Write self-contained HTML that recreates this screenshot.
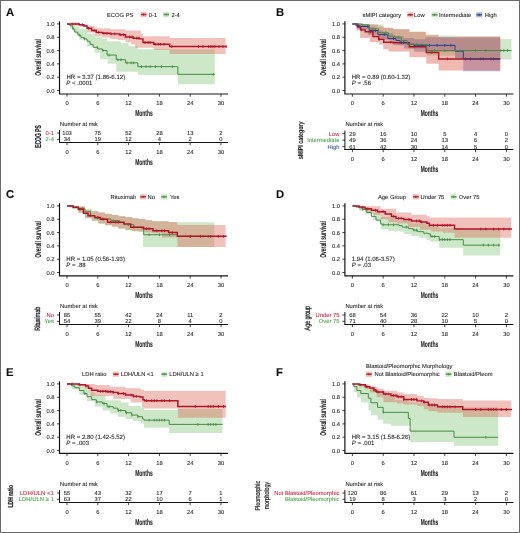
<!DOCTYPE html>
<html><head><meta charset="utf-8"><style>
html,body{margin:0;padding:0;background:#fff;}
#fig{position:relative;width:520px;height:533px;box-sizing:border-box;border:1px solid #6a6a6a;overflow:hidden;}
svg{position:absolute;left:-1px;top:-1px;will-change:transform;}
svg text{font-family:"Liberation Sans",sans-serif;text-rendering:geometricPrecision;}
</style></head><body><div id="fig">
<svg width="520" height="533" viewBox="0 0 520 533">
<text x="6" y="15.8" font-size="11.3" font-weight="bold" fill="#111" stroke="#111" stroke-width="0.1">A</text>
<text x="107" y="16.6" font-size="5.8" fill="#2a2a2a" stroke="#2a2a2a" stroke-width="0.1">ECOG PS</text>
<rect x="140.6" y="11.9" width="6" height="5.2" fill="rgba(220,100,85,0.40)"/>
<path d="M140.9 14.5H146.5" stroke="#b01428" stroke-width="1.5" stroke-opacity="0.85"/>
<path d="M143.6 13.3V15.7" stroke="#b01428" stroke-width="0.8"/>
<text x="148.8" y="16.6" font-size="5.8" fill="#2a2a2a" stroke="#2a2a2a" stroke-width="0.1">0-1</text>
<rect x="163.2" y="11.9" width="6" height="5.2" fill="rgba(130,198,118,0.40)"/>
<path d="M163.5 14.5H169.1" stroke="#468c46" stroke-width="1.5" stroke-opacity="0.85"/>
<path d="M166.2 13.3V15.7" stroke="#468c46" stroke-width="0.8"/>
<text x="171.4" y="16.6" font-size="5.8" fill="#2a2a2a" stroke="#2a2a2a" stroke-width="0.1">2-4</text>
<path d="M67 23.9 L70.08 23.9 L70.08 24.57 L74.7 24.57 L74.7 26.56 L79.32 26.56 L79.32 28.96 L87.02 28.96 L87.02 33.56 L94.72 33.56 L94.72 37.22 L102.42 37.22 L102.42 38.55 L107.04 38.55 L107.04 41.22 L120.9 41.22 L120.9 42.88 L128.6 42.88 L128.6 45.88 L137.84 45.88 L137.84 49.21 L169.66 49.21 L169.66 49.47 L214.83 49.47 L214.83 84.17 L177.87 84.17 L177.87 75.05 L137.84 75.05 L137.84 71.65 L116.28 71.65 L116.28 63.86 L107.55 63.86 L107.55 59.2 L99.85 59.2 L99.85 52.74 L94.72 52.74 L94.72 46.68 L87.02 46.68 L87.02 39.68 L79.32 39.68 L79.32 33.89 L74.7 33.89 L74.7 27.9 L70.08 27.9 L70.08 23.9 L67 23.9Z" fill="rgba(130,198,118,0.40)" stroke="none"/>
<path d="M67 23.9 L79.32 23.9 L79.32 23.9 L83.94 23.9 L83.94 24.9 L87.02 24.9 L87.02 25.9 L94.72 25.9 L94.72 28.23 L110.12 28.23 L110.12 29.29 L125.52 29.29 L125.52 30.49 L140.92 30.49 L140.92 33.89 L142.97 33.89 L142.97 36.22 L169.66 36.22 L169.66 37.95 L225.61 37.95 L225.61 54.07 L169.66 54.07 L169.66 49.94 L153.75 49.94 L153.75 47.68 L135.27 47.68 L135.27 44.55 L131.16 44.55 L131.16 42.22 L125.52 42.22 L125.52 39.88 L117.82 39.88 L117.82 38.89 L110.12 38.89 L110.12 37.55 L102.42 37.55 L102.42 36.55 L94.72 36.55 L94.72 32.56 L87.02 32.56 L87.02 26.7 L79.32 26.7 L79.32 25.23 L72.13 25.23 L72.13 23.9 L67 23.9Z" fill="rgba(220,100,85,0.40)" stroke="none"/>
<path d="M67 23.9H68.54V24.9H70.08V25.9H72.65V28.96H74.7V32.03H77.78V35.09H80.86V37.42H83.94V38.95H87.02V41.28H90.1V44.35H93.18V47.34H97.8V48.94H102.42V50.47H107.04V55.07H116.28V59.73H125.52V62.86H137.84V66.66H177.87V74.32H214.83" fill="none" stroke="#468c46" stroke-width="1.0"/>
<path d="M73.16 27.56V30.36" stroke="#468c46" stroke-width="0.9"/>
<path d="M79.32 33.69V36.49" stroke="#468c46" stroke-width="0.9"/>
<path d="M84.45 37.55V40.35" stroke="#468c46" stroke-width="0.9"/>
<path d="M97.28 45.94V48.74" stroke="#468c46" stroke-width="0.9"/>
<path d="M102.93 49.07V51.87" stroke="#468c46" stroke-width="0.9"/>
<path d="M109.09 53.67V56.47" stroke="#468c46" stroke-width="0.9"/>
<path d="M117.82 58.33V61.13" stroke="#468c46" stroke-width="0.9"/>
<path d="M120.9 58.33V61.13" stroke="#468c46" stroke-width="0.9"/>
<path d="M127.06 61.46V64.26" stroke="#468c46" stroke-width="0.9"/>
<path d="M131.16 61.46V64.26" stroke="#468c46" stroke-width="0.9"/>
<path d="M133.73 61.46V64.26" stroke="#468c46" stroke-width="0.9"/>
<path d="M141.43 65.26V68.06" stroke="#468c46" stroke-width="0.9"/>
<path d="M146.05 65.26V68.06" stroke="#468c46" stroke-width="0.9"/>
<path d="M150.15 65.26V68.06" stroke="#468c46" stroke-width="0.9"/>
<path d="M155.29 65.26V68.06" stroke="#468c46" stroke-width="0.9"/>
<path d="M161.45 65.26V68.06" stroke="#468c46" stroke-width="0.9"/>
<path d="M172.23 65.26V68.06" stroke="#468c46" stroke-width="0.9"/>
<path d="M213.29 72.92V75.72" stroke="#468c46" stroke-width="0.9"/>
<path d="M67 23.9H79.32V24.7H83.94V25.9H87.02V28.23H91.64V30.49H96.26V32.36H102.42V33.29H110.12V33.89H119.36V34.82H125.52V37.02H133.22V38.15H139.38V38.89H142.97V42.48H153.75V44.28H169.66V46.54H226.64" fill="none" stroke="#b01428" stroke-width="1.45"/>
<path d="M72.13 22.5V25.3" stroke="#b01428" stroke-width="0.9"/>
<path d="M75.21 22.5V25.3" stroke="#b01428" stroke-width="0.9"/>
<path d="M78.29 22.5V25.3" stroke="#b01428" stroke-width="0.9"/>
<path d="M82.4 23.3V26.1" stroke="#b01428" stroke-width="0.9"/>
<path d="M88.56 26.83V29.63" stroke="#b01428" stroke-width="0.9"/>
<path d="M94.2 29.09V31.89" stroke="#b01428" stroke-width="0.9"/>
<path d="M98.82 30.96V33.76" stroke="#b01428" stroke-width="0.9"/>
<path d="M103.96 31.89V34.69" stroke="#b01428" stroke-width="0.9"/>
<path d="M107.04 31.89V34.69" stroke="#b01428" stroke-width="0.9"/>
<path d="M111.14 32.49V35.29" stroke="#b01428" stroke-width="0.9"/>
<path d="M114.74 32.49V35.29" stroke="#b01428" stroke-width="0.9"/>
<path d="M120.38 33.42V36.22" stroke="#b01428" stroke-width="0.9"/>
<path d="M123.46 33.42V36.22" stroke="#b01428" stroke-width="0.9"/>
<path d="M129.62 35.62V38.42" stroke="#b01428" stroke-width="0.9"/>
<path d="M132.19 35.62V38.42" stroke="#b01428" stroke-width="0.9"/>
<path d="M136.81 36.75V39.55" stroke="#b01428" stroke-width="0.9"/>
<path d="M138.86 36.75V39.55" stroke="#b01428" stroke-width="0.9"/>
<path d="M145.02 41.08V43.88" stroke="#b01428" stroke-width="0.9"/>
<path d="M148.1 41.08V43.88" stroke="#b01428" stroke-width="0.9"/>
<path d="M150.15 41.08V43.88" stroke="#b01428" stroke-width="0.9"/>
<path d="M155.29 42.88V45.68" stroke="#b01428" stroke-width="0.9"/>
<path d="M158.37 42.88V45.68" stroke="#b01428" stroke-width="0.9"/>
<path d="M160.42 42.88V45.68" stroke="#b01428" stroke-width="0.9"/>
<path d="M164.01 42.88V45.68" stroke="#b01428" stroke-width="0.9"/>
<path d="M171.71 45.14V47.94" stroke="#b01428" stroke-width="0.9"/>
<path d="M198.4 45.14V47.94" stroke="#b01428" stroke-width="0.9"/>
<path d="M203.02 45.14V47.94" stroke="#b01428" stroke-width="0.9"/>
<path d="M208.67 45.14V47.94" stroke="#b01428" stroke-width="0.9"/>
<path d="M210.72 45.14V47.94" stroke="#b01428" stroke-width="0.9"/>
<path d="M212.78 45.14V47.94" stroke="#b01428" stroke-width="0.9"/>
<path d="M214.83 45.14V47.94" stroke="#b01428" stroke-width="0.9"/>
<path d="M218.94 45.14V47.94" stroke="#b01428" stroke-width="0.9"/>
<path d="M223.04 45.14V47.94" stroke="#b01428" stroke-width="0.9"/>
<path d="M226.12 45.14V47.94" stroke="#b01428" stroke-width="0.9"/>
<path d="M59.5 21.2V94.6M58.9 94H228" stroke="#141414" stroke-width="1.2" fill="none"/>
<path d="M57 90.5H59.5" stroke="#141414" stroke-width="0.8"/>
<text x="54.6" y="92.6" font-size="5.8" text-anchor="end" fill="#2a2a2a" stroke="#2a2a2a" stroke-width="0.1">0.0</text>
<path d="M57 77.18H59.5" stroke="#141414" stroke-width="0.8"/>
<text x="54.6" y="79.28" font-size="5.8" text-anchor="end" fill="#2a2a2a" stroke="#2a2a2a" stroke-width="0.1">0.2</text>
<path d="M57 63.86H59.5" stroke="#141414" stroke-width="0.8"/>
<text x="54.6" y="65.96" font-size="5.8" text-anchor="end" fill="#2a2a2a" stroke="#2a2a2a" stroke-width="0.1">0.4</text>
<path d="M57 50.54H59.5" stroke="#141414" stroke-width="0.8"/>
<text x="54.6" y="52.64" font-size="5.8" text-anchor="end" fill="#2a2a2a" stroke="#2a2a2a" stroke-width="0.1">0.6</text>
<path d="M57 37.22H59.5" stroke="#141414" stroke-width="0.8"/>
<text x="54.6" y="39.32" font-size="5.8" text-anchor="end" fill="#2a2a2a" stroke="#2a2a2a" stroke-width="0.1">0.8</text>
<path d="M57 23.9H59.5" stroke="#141414" stroke-width="0.8"/>
<text x="54.6" y="26" font-size="5.8" text-anchor="end" fill="#2a2a2a" stroke="#2a2a2a" stroke-width="0.1">1.0</text>
<path d="M67 94V96.7" stroke="#141414" stroke-width="0.8"/>
<text x="67" y="104.8" font-size="5.8" text-anchor="middle" fill="#2a2a2a" stroke="#2a2a2a" stroke-width="0.1">0</text>
<path d="M97.8 94V96.7" stroke="#141414" stroke-width="0.8"/>
<text x="97.8" y="104.8" font-size="5.8" text-anchor="middle" fill="#2a2a2a" stroke="#2a2a2a" stroke-width="0.1">6</text>
<path d="M128.6 94V96.7" stroke="#141414" stroke-width="0.8"/>
<text x="128.6" y="104.8" font-size="5.8" text-anchor="middle" fill="#2a2a2a" stroke="#2a2a2a" stroke-width="0.1">12</text>
<path d="M159.39 94V96.7" stroke="#141414" stroke-width="0.8"/>
<text x="159.39" y="104.8" font-size="5.8" text-anchor="middle" fill="#2a2a2a" stroke="#2a2a2a" stroke-width="0.1">18</text>
<path d="M190.19 94V96.7" stroke="#141414" stroke-width="0.8"/>
<text x="190.19" y="104.8" font-size="5.8" text-anchor="middle" fill="#2a2a2a" stroke="#2a2a2a" stroke-width="0.1">24</text>
<path d="M220.99 94V96.7" stroke="#141414" stroke-width="0.8"/>
<text x="220.99" y="104.8" font-size="5.8" text-anchor="middle" fill="#2a2a2a" stroke="#2a2a2a" stroke-width="0.1">30</text>
<text transform="translate(144,116) scale(0.58,1)" x="0" y="0" font-size="8.5" font-weight="bold" text-anchor="middle" fill="#1a1a1a" stroke="#1a1a1a" stroke-width="0.08">Months</text>
<text transform="translate(41,57.5) rotate(-90) scale(0.58,1)" x="0" y="0" font-size="8.5" font-weight="bold" text-anchor="middle" fill="#1a1a1a" stroke="#1a1a1a" stroke-width="0.08">Overall survival</text>
<text x="66.5" y="78.6" font-size="6.05" fill="#2a2a2a" stroke="#2a2a2a" stroke-width="0.1">HR = 3.37 (1.86-6.12)</text>
<text x="66.3" y="85.4" font-size="6.05" fill="#2a2a2a" stroke="#2a2a2a" stroke-width="0.1"><tspan font-style="italic">P</tspan> &lt; .0001</text>
<text x="60" y="126.1" font-size="5.8" fill="#2a2a2a" stroke="#2a2a2a" stroke-width="0.1">Number at risk</text>
<path d="M59.5 130V143M59 142.5H228" stroke="#141414" stroke-width="1" fill="none"/>
<path d="M57 133H59.5" stroke="#141414" stroke-width="0.8"/>
<text x="54" y="135.1" font-size="5.8" text-anchor="end" fill="#cc2a48" stroke="#cc2a48" stroke-width="0.1">0-1</text>
<text x="67" y="135.1" font-size="5.8" text-anchor="middle" fill="#2a2a2a" stroke="#2a2a2a" stroke-width="0.1">103</text>
<text x="97.8" y="135.1" font-size="5.8" text-anchor="middle" fill="#2a2a2a" stroke="#2a2a2a" stroke-width="0.1">75</text>
<text x="128.6" y="135.1" font-size="5.8" text-anchor="middle" fill="#2a2a2a" stroke="#2a2a2a" stroke-width="0.1">52</text>
<text x="159.39" y="135.1" font-size="5.8" text-anchor="middle" fill="#2a2a2a" stroke="#2a2a2a" stroke-width="0.1">28</text>
<text x="190.19" y="135.1" font-size="5.8" text-anchor="middle" fill="#2a2a2a" stroke="#2a2a2a" stroke-width="0.1">13</text>
<text x="220.99" y="135.1" font-size="5.8" text-anchor="middle" fill="#2a2a2a" stroke="#2a2a2a" stroke-width="0.1">2</text>
<path d="M57 139.3H59.5" stroke="#141414" stroke-width="0.8"/>
<text x="54" y="141.4" font-size="5.8" text-anchor="end" fill="#4aa84a" stroke="#4aa84a" stroke-width="0.1">2-4</text>
<text x="67" y="141.4" font-size="5.8" text-anchor="middle" fill="#2a2a2a" stroke="#2a2a2a" stroke-width="0.1">34</text>
<text x="97.8" y="141.4" font-size="5.8" text-anchor="middle" fill="#2a2a2a" stroke="#2a2a2a" stroke-width="0.1">19</text>
<text x="128.6" y="141.4" font-size="5.8" text-anchor="middle" fill="#2a2a2a" stroke="#2a2a2a" stroke-width="0.1">12</text>
<text x="159.39" y="141.4" font-size="5.8" text-anchor="middle" fill="#2a2a2a" stroke="#2a2a2a" stroke-width="0.1">4</text>
<text x="190.19" y="141.4" font-size="5.8" text-anchor="middle" fill="#2a2a2a" stroke="#2a2a2a" stroke-width="0.1">2</text>
<text x="220.99" y="141.4" font-size="5.8" text-anchor="middle" fill="#2a2a2a" stroke="#2a2a2a" stroke-width="0.1">0</text>
<path d="M67 142.5V145.2" stroke="#141414" stroke-width="0.8"/>
<text x="67" y="153.8" font-size="5.8" text-anchor="middle" fill="#2a2a2a" stroke="#2a2a2a" stroke-width="0.1">0</text>
<path d="M97.8 142.5V145.2" stroke="#141414" stroke-width="0.8"/>
<text x="97.8" y="153.8" font-size="5.8" text-anchor="middle" fill="#2a2a2a" stroke="#2a2a2a" stroke-width="0.1">6</text>
<path d="M128.6 142.5V145.2" stroke="#141414" stroke-width="0.8"/>
<text x="128.6" y="153.8" font-size="5.8" text-anchor="middle" fill="#2a2a2a" stroke="#2a2a2a" stroke-width="0.1">12</text>
<path d="M159.39 142.5V145.2" stroke="#141414" stroke-width="0.8"/>
<text x="159.39" y="153.8" font-size="5.8" text-anchor="middle" fill="#2a2a2a" stroke="#2a2a2a" stroke-width="0.1">18</text>
<path d="M190.19 142.5V145.2" stroke="#141414" stroke-width="0.8"/>
<text x="190.19" y="153.8" font-size="5.8" text-anchor="middle" fill="#2a2a2a" stroke="#2a2a2a" stroke-width="0.1">24</text>
<path d="M220.99 142.5V145.2" stroke="#141414" stroke-width="0.8"/>
<text x="220.99" y="153.8" font-size="5.8" text-anchor="middle" fill="#2a2a2a" stroke="#2a2a2a" stroke-width="0.1">30</text>
<text transform="translate(144,164.7) scale(0.58,1)" x="0" y="0" font-size="8.5" font-weight="bold" text-anchor="middle" fill="#1a1a1a" stroke="#1a1a1a" stroke-width="0.08">Months</text>
<text transform="translate(40.9,136.5) rotate(-90) scale(0.58,1)" x="0" y="0" font-size="8.6" font-weight="bold" text-anchor="middle" fill="#222" stroke="#222" stroke-width="0.25">ECOG PS</text>
<text x="276" y="15.8" font-size="11.3" font-weight="bold" fill="#111" stroke="#111" stroke-width="0.1">B</text>
<text x="362.5" y="16.9" font-size="5.8" fill="#2a2a2a" stroke="#2a2a2a" stroke-width="0.1">sMIPI category</text>
<rect x="407.2" y="12.2" width="6" height="5.2" fill="rgba(220,100,85,0.40)"/>
<path d="M407.5 14.8H413.1" stroke="#b01428" stroke-width="1.5" stroke-opacity="0.85"/>
<path d="M410.2 13.6V16" stroke="#b01428" stroke-width="0.8"/>
<text x="414" y="16.9" font-size="5.8" fill="#2a2a2a" stroke="#2a2a2a" stroke-width="0.1">Low</text>
<rect x="431.6" y="12.2" width="6" height="5.2" fill="rgba(130,198,118,0.40)"/>
<path d="M431.9 14.8H437.5" stroke="#468c46" stroke-width="1.5" stroke-opacity="0.85"/>
<path d="M434.6 13.6V16" stroke="#468c46" stroke-width="0.8"/>
<text x="439" y="16.9" font-size="5.8" fill="#2a2a2a" stroke="#2a2a2a" stroke-width="0.1">Intermediate</text>
<rect x="476.2" y="12.2" width="6" height="5.2" fill="rgba(90,100,170,0.45)"/>
<path d="M476.5 14.8H482.1" stroke="#2a3f88" stroke-width="1.5" stroke-opacity="0.85"/>
<path d="M479.2 13.6V16" stroke="#2a3f88" stroke-width="0.8"/>
<text x="484.8" y="16.9" font-size="5.8" fill="#2a2a2a" stroke="#2a2a2a" stroke-width="0.1">High</text>
<path d="M352.4 23.9 L373.96 23.9 L373.96 24.57 L383.71 24.57 L383.71 27.43 L392.95 27.43 L392.95 28.9 L409.38 28.9 L409.38 31.56 L425.29 31.56 L425.29 34.49 L438.63 34.49 L438.63 35.56 L455.06 35.56 L455.06 36.55 L500.23 36.55 L500.23 38.95 L511.52 38.95 L511.52 59.4 L455.06 59.4 L455.06 55.87 L426.83 55.87 L426.83 49.21 L407.32 49.21 L407.32 45.21 L398.08 45.21 L398.08 42.55 L388.33 42.55 L388.33 38.55 L378.58 38.55 L378.58 33.89 L369.34 33.89 L369.34 30.56 L362.67 30.56 L362.67 26.56 L357.53 26.56 L357.53 23.9 L352.4 23.9Z" fill="rgba(130,198,118,0.40)" stroke="none"/>
<path d="M352.4 23.9 L360.1 23.9 L360.1 24.57 L367.8 24.57 L367.8 27.23 L375.5 27.23 L375.5 30.56 L383.2 30.56 L383.2 33.22 L393.46 33.22 L393.46 35.89 L403.73 35.89 L403.73 37.89 L414 37.89 L414 39.22 L425.29 39.22 L425.29 37.22 L455.06 37.22 L455.06 37.55 L500.23 37.55 L500.23 71.19 L463.27 71.19 L463.27 58.53 L455.06 58.53 L455.06 51.87 L414 51.87 L414 48.54 L403.73 48.54 L403.73 45.21 L393.46 45.21 L393.46 39.88 L378.06 39.88 L378.06 35.22 L367.8 35.22 L367.8 29.23 L357.53 29.23 L357.53 23.9 L352.4 23.9Z" fill="rgba(90,100,170,0.45)" stroke="none"/>
<path d="M352.4 23.9 L362.67 23.9 L362.67 23.9 L369.34 23.9 L369.34 24.57 L378.06 24.57 L378.06 26.56 L383.71 26.56 L383.71 27.9 L393.46 27.9 L393.46 29.23 L409.38 29.23 L409.38 31.89 L426.32 31.89 L426.32 35.22 L438.63 35.22 L438.63 37.22 L455.06 37.22 L455.06 36.55 L500.23 36.55 L500.23 70.52 L438.63 70.52 L438.63 63.86 L426.32 63.86 L426.32 57.2 L409.38 57.2 L409.38 51.54 L388.33 51.54 L388.33 49.21 L383.2 49.21 L383.2 44.55 L379.09 44.55 L379.09 41.88 L369.85 41.88 L369.85 37.89 L360.1 37.89 L360.1 30.56 L356.51 30.56 L356.51 23.9 L352.4 23.9Z" fill="rgba(220,100,85,0.45)" stroke="none"/>
<path d="M352.4 23.9H357.53V26.9H360.61V29.89H365.23V31.69H372.93V36.49H378.58V39.35H383.71V42.28H392.95V42.68H409.38V46.74H426.32V52.54H438.63V58.93H500.23" fill="none" stroke="#b01428" stroke-width="1.45"/>
<path d="M361.64 28.49V31.29" stroke="#b01428" stroke-width="0.9"/>
<path d="M370.37 30.29V33.09" stroke="#b01428" stroke-width="0.9"/>
<path d="M379.09 37.95V40.75" stroke="#b01428" stroke-width="0.9"/>
<path d="M390.9 40.88V43.68" stroke="#b01428" stroke-width="0.9"/>
<path d="M401.16 41.28V44.08" stroke="#b01428" stroke-width="0.9"/>
<path d="M414 45.34V48.14" stroke="#b01428" stroke-width="0.9"/>
<path d="M431.96 51.14V53.94" stroke="#b01428" stroke-width="0.9"/>
<path d="M447.36 57.53V60.33" stroke="#b01428" stroke-width="0.9"/>
<path d="M465.33 57.53V60.33" stroke="#b01428" stroke-width="0.9"/>
<path d="M480.72 57.53V60.33" stroke="#b01428" stroke-width="0.9"/>
<path d="M490.99 57.53V60.33" stroke="#b01428" stroke-width="0.9"/>
<path d="M352.4 23.9H355.99V25.9H360.61V26.56H369.34V30.56H378.06V34.56H387.82V38.55H396.03V40.55H400.14V42.41H407.32V44.15H414V45.35H455.06V51.21H463.27V58.93H500.23" fill="none" stroke="#2a3f88" stroke-width="1.0"/>
<path d="M358.56 24.5V27.3" stroke="#2a3f88" stroke-width="0.9"/>
<path d="M367.8 25.16V27.96" stroke="#2a3f88" stroke-width="0.9"/>
<path d="M375.5 29.16V31.96" stroke="#2a3f88" stroke-width="0.9"/>
<path d="M384.22 33.16V35.96" stroke="#2a3f88" stroke-width="0.9"/>
<path d="M393.46 37.15V39.95" stroke="#2a3f88" stroke-width="0.9"/>
<path d="M403.73 41.01V43.81" stroke="#2a3f88" stroke-width="0.9"/>
<path d="M415.02 43.95V46.75" stroke="#2a3f88" stroke-width="0.9"/>
<path d="M421.7 43.95V46.75" stroke="#2a3f88" stroke-width="0.9"/>
<path d="M429.39 43.95V46.75" stroke="#2a3f88" stroke-width="0.9"/>
<path d="M437.09 43.95V46.75" stroke="#2a3f88" stroke-width="0.9"/>
<path d="M444.79 43.95V46.75" stroke="#2a3f88" stroke-width="0.9"/>
<path d="M450.95 43.95V46.75" stroke="#2a3f88" stroke-width="0.9"/>
<path d="M470.46 57.53V60.33" stroke="#2a3f88" stroke-width="0.9"/>
<path d="M483.29 57.53V60.33" stroke="#2a3f88" stroke-width="0.9"/>
<path d="M493.56 57.53V60.33" stroke="#2a3f88" stroke-width="0.9"/>
<path d="M352.4 23.9H361.64V24.97H369.34V28.9H378.58V32.69H388.33V36.09H395V37.22H401.16V40.55H407.32V44.35H426.83V50.54H511.52" fill="none" stroke="#468c46" stroke-width="1.0"/>
<path d="M362.67 23.57V26.37" stroke="#468c46" stroke-width="0.9"/>
<path d="M372.93 27.5V30.3" stroke="#468c46" stroke-width="0.9"/>
<path d="M385.76 31.29V34.09" stroke="#468c46" stroke-width="0.9"/>
<path d="M398.6 35.82V38.62" stroke="#468c46" stroke-width="0.9"/>
<path d="M416.56 42.95V45.75" stroke="#468c46" stroke-width="0.9"/>
<path d="M434.53 49.14V51.94" stroke="#468c46" stroke-width="0.9"/>
<path d="M444.79 49.14V51.94" stroke="#468c46" stroke-width="0.9"/>
<path d="M460.19 49.14V51.94" stroke="#468c46" stroke-width="0.9"/>
<path d="M475.59 49.14V51.94" stroke="#468c46" stroke-width="0.9"/>
<path d="M485.86 49.14V51.94" stroke="#468c46" stroke-width="0.9"/>
<path d="M500.74 49.14V51.94" stroke="#468c46" stroke-width="0.9"/>
<path d="M503.82 49.14V51.94" stroke="#468c46" stroke-width="0.9"/>
<path d="M507.42 49.14V51.94" stroke="#468c46" stroke-width="0.9"/>
<path d="M344.9 21.2V94.6M344.3 94H513.4" stroke="#141414" stroke-width="1.2" fill="none"/>
<path d="M342.4 90.5H344.9" stroke="#141414" stroke-width="0.8"/>
<text x="340" y="92.6" font-size="5.8" text-anchor="end" fill="#2a2a2a" stroke="#2a2a2a" stroke-width="0.1">0.0</text>
<path d="M342.4 77.18H344.9" stroke="#141414" stroke-width="0.8"/>
<text x="340" y="79.28" font-size="5.8" text-anchor="end" fill="#2a2a2a" stroke="#2a2a2a" stroke-width="0.1">0.2</text>
<path d="M342.4 63.86H344.9" stroke="#141414" stroke-width="0.8"/>
<text x="340" y="65.96" font-size="5.8" text-anchor="end" fill="#2a2a2a" stroke="#2a2a2a" stroke-width="0.1">0.4</text>
<path d="M342.4 50.54H344.9" stroke="#141414" stroke-width="0.8"/>
<text x="340" y="52.64" font-size="5.8" text-anchor="end" fill="#2a2a2a" stroke="#2a2a2a" stroke-width="0.1">0.6</text>
<path d="M342.4 37.22H344.9" stroke="#141414" stroke-width="0.8"/>
<text x="340" y="39.32" font-size="5.8" text-anchor="end" fill="#2a2a2a" stroke="#2a2a2a" stroke-width="0.1">0.8</text>
<path d="M342.4 23.9H344.9" stroke="#141414" stroke-width="0.8"/>
<text x="340" y="26" font-size="5.8" text-anchor="end" fill="#2a2a2a" stroke="#2a2a2a" stroke-width="0.1">1.0</text>
<path d="M352.4 94V96.7" stroke="#141414" stroke-width="0.8"/>
<text x="352.4" y="104.8" font-size="5.8" text-anchor="middle" fill="#2a2a2a" stroke="#2a2a2a" stroke-width="0.1">0</text>
<path d="M383.2 94V96.7" stroke="#141414" stroke-width="0.8"/>
<text x="383.2" y="104.8" font-size="5.8" text-anchor="middle" fill="#2a2a2a" stroke="#2a2a2a" stroke-width="0.1">6</text>
<path d="M414 94V96.7" stroke="#141414" stroke-width="0.8"/>
<text x="414" y="104.8" font-size="5.8" text-anchor="middle" fill="#2a2a2a" stroke="#2a2a2a" stroke-width="0.1">12</text>
<path d="M444.79 94V96.7" stroke="#141414" stroke-width="0.8"/>
<text x="444.79" y="104.8" font-size="5.8" text-anchor="middle" fill="#2a2a2a" stroke="#2a2a2a" stroke-width="0.1">18</text>
<path d="M475.59 94V96.7" stroke="#141414" stroke-width="0.8"/>
<text x="475.59" y="104.8" font-size="5.8" text-anchor="middle" fill="#2a2a2a" stroke="#2a2a2a" stroke-width="0.1">24</text>
<path d="M506.39 94V96.7" stroke="#141414" stroke-width="0.8"/>
<text x="506.39" y="104.8" font-size="5.8" text-anchor="middle" fill="#2a2a2a" stroke="#2a2a2a" stroke-width="0.1">30</text>
<text transform="translate(429.4,116) scale(0.58,1)" x="0" y="0" font-size="8.5" font-weight="bold" text-anchor="middle" fill="#1a1a1a" stroke="#1a1a1a" stroke-width="0.08">Months</text>
<text transform="translate(326.4,57.5) rotate(-90) scale(0.58,1)" x="0" y="0" font-size="8.5" font-weight="bold" text-anchor="middle" fill="#1a1a1a" stroke="#1a1a1a" stroke-width="0.08">Overall survival</text>
<text x="351.7" y="78.6" font-size="6.05" fill="#2a2a2a" stroke="#2a2a2a" stroke-width="0.1">HR = 0.89 (0.60-1.32)</text>
<text x="351.7" y="85.4" font-size="6.05" fill="#2a2a2a" stroke="#2a2a2a" stroke-width="0.1"><tspan font-style="italic">P</tspan> = .56</text>
<text x="345.4" y="126.1" font-size="5.8" fill="#2a2a2a" stroke="#2a2a2a" stroke-width="0.1">Number at risk</text>
<path d="M344.9 130.6V150M344.4 149.5H513.4" stroke="#141414" stroke-width="1" fill="none"/>
<path d="M342.4 133.6H344.9" stroke="#141414" stroke-width="0.8"/>
<text x="339.4" y="135.7" font-size="5.8" text-anchor="end" fill="#cc2a48" stroke="#cc2a48" stroke-width="0.1">Low</text>
<text x="352.4" y="135.7" font-size="5.8" text-anchor="middle" fill="#2a2a2a" stroke="#2a2a2a" stroke-width="0.1">29</text>
<text x="383.2" y="135.7" font-size="5.8" text-anchor="middle" fill="#2a2a2a" stroke="#2a2a2a" stroke-width="0.1">16</text>
<text x="414" y="135.7" font-size="5.8" text-anchor="middle" fill="#2a2a2a" stroke="#2a2a2a" stroke-width="0.1">10</text>
<text x="444.79" y="135.7" font-size="5.8" text-anchor="middle" fill="#2a2a2a" stroke="#2a2a2a" stroke-width="0.1">5</text>
<text x="475.59" y="135.7" font-size="5.8" text-anchor="middle" fill="#2a2a2a" stroke="#2a2a2a" stroke-width="0.1">4</text>
<text x="506.39" y="135.7" font-size="5.8" text-anchor="middle" fill="#2a2a2a" stroke="#2a2a2a" stroke-width="0.1">0</text>
<path d="M342.4 140.15H344.9" stroke="#141414" stroke-width="0.8"/>
<text x="339.4" y="142.25" font-size="5.8" text-anchor="end" fill="#4aa84a" stroke="#4aa84a" stroke-width="0.1">Intermediate</text>
<text x="352.4" y="142.25" font-size="5.8" text-anchor="middle" fill="#2a2a2a" stroke="#2a2a2a" stroke-width="0.1">49</text>
<text x="383.2" y="142.25" font-size="5.8" text-anchor="middle" fill="#2a2a2a" stroke="#2a2a2a" stroke-width="0.1">36</text>
<text x="414" y="142.25" font-size="5.8" text-anchor="middle" fill="#2a2a2a" stroke="#2a2a2a" stroke-width="0.1">24</text>
<text x="444.79" y="142.25" font-size="5.8" text-anchor="middle" fill="#2a2a2a" stroke="#2a2a2a" stroke-width="0.1">13</text>
<text x="475.59" y="142.25" font-size="5.8" text-anchor="middle" fill="#2a2a2a" stroke="#2a2a2a" stroke-width="0.1">6</text>
<text x="506.39" y="142.25" font-size="5.8" text-anchor="middle" fill="#2a2a2a" stroke="#2a2a2a" stroke-width="0.1">2</text>
<path d="M342.4 146.7H344.9" stroke="#141414" stroke-width="0.8"/>
<text x="339.4" y="148.8" font-size="5.8" text-anchor="end" fill="#3a5aa8" stroke="#3a5aa8" stroke-width="0.1">High</text>
<text x="352.4" y="148.8" font-size="5.8" text-anchor="middle" fill="#2a2a2a" stroke="#2a2a2a" stroke-width="0.1">61</text>
<text x="383.2" y="148.8" font-size="5.8" text-anchor="middle" fill="#2a2a2a" stroke="#2a2a2a" stroke-width="0.1">42</text>
<text x="414" y="148.8" font-size="5.8" text-anchor="middle" fill="#2a2a2a" stroke="#2a2a2a" stroke-width="0.1">30</text>
<text x="444.79" y="148.8" font-size="5.8" text-anchor="middle" fill="#2a2a2a" stroke="#2a2a2a" stroke-width="0.1">14</text>
<text x="475.59" y="148.8" font-size="5.8" text-anchor="middle" fill="#2a2a2a" stroke="#2a2a2a" stroke-width="0.1">5</text>
<text x="506.39" y="148.8" font-size="5.8" text-anchor="middle" fill="#2a2a2a" stroke="#2a2a2a" stroke-width="0.1">0</text>
<path d="M352.4 149.5V152.2" stroke="#141414" stroke-width="0.8"/>
<text x="352.4" y="160.8" font-size="5.8" text-anchor="middle" fill="#2a2a2a" stroke="#2a2a2a" stroke-width="0.1">0</text>
<path d="M383.2 149.5V152.2" stroke="#141414" stroke-width="0.8"/>
<text x="383.2" y="160.8" font-size="5.8" text-anchor="middle" fill="#2a2a2a" stroke="#2a2a2a" stroke-width="0.1">6</text>
<path d="M414 149.5V152.2" stroke="#141414" stroke-width="0.8"/>
<text x="414" y="160.8" font-size="5.8" text-anchor="middle" fill="#2a2a2a" stroke="#2a2a2a" stroke-width="0.1">12</text>
<path d="M444.79 149.5V152.2" stroke="#141414" stroke-width="0.8"/>
<text x="444.79" y="160.8" font-size="5.8" text-anchor="middle" fill="#2a2a2a" stroke="#2a2a2a" stroke-width="0.1">18</text>
<path d="M475.59 149.5V152.2" stroke="#141414" stroke-width="0.8"/>
<text x="475.59" y="160.8" font-size="5.8" text-anchor="middle" fill="#2a2a2a" stroke="#2a2a2a" stroke-width="0.1">24</text>
<path d="M506.39 149.5V152.2" stroke="#141414" stroke-width="0.8"/>
<text x="506.39" y="160.8" font-size="5.8" text-anchor="middle" fill="#2a2a2a" stroke="#2a2a2a" stroke-width="0.1">30</text>
<text transform="translate(429.4,171.7) scale(0.58,1)" x="0" y="0" font-size="8.5" font-weight="bold" text-anchor="middle" fill="#1a1a1a" stroke="#1a1a1a" stroke-width="0.08">Months</text>
<text transform="translate(303.4,140.35) rotate(-90) scale(0.74,1)" x="0" y="0" font-size="7.2" font-weight="bold" text-anchor="middle" fill="#222" stroke="#222" stroke-width="0.12">sMIPI category</text>
<text x="6" y="197.8" font-size="11.3" font-weight="bold" fill="#111" stroke="#111" stroke-width="0.1">C</text>
<text x="110.5" y="198.9" font-size="5.8" fill="#2a2a2a" stroke="#2a2a2a" stroke-width="0.1">Rituximab</text>
<rect x="140" y="194.2" width="6" height="5.2" fill="rgba(220,100,85,0.40)"/>
<path d="M140.3 196.8H145.9" stroke="#b01428" stroke-width="1.5" stroke-opacity="0.85"/>
<path d="M143 195.6V198" stroke="#b01428" stroke-width="0.8"/>
<text x="147.5" y="198.9" font-size="5.8" fill="#2a2a2a" stroke="#2a2a2a" stroke-width="0.1">No</text>
<rect x="161" y="194.2" width="6" height="5.2" fill="rgba(130,198,118,0.40)"/>
<path d="M161.3 196.8H166.9" stroke="#468c46" stroke-width="1.5" stroke-opacity="0.85"/>
<path d="M164 195.6V198" stroke="#468c46" stroke-width="0.8"/>
<text x="170" y="198.9" font-size="5.8" fill="#2a2a2a" stroke="#2a2a2a" stroke-width="0.1">Yes</text>
<path d="M67 205.9 L72.13 205.9 L72.13 205.9 L78.29 205.9 L78.29 206.57 L84.97 206.57 L84.97 209.23 L91.64 209.23 L91.64 210.9 L98.31 210.9 L98.31 212.23 L104.98 212.23 L104.98 213.56 L111.91 213.56 L111.91 214.89 L118.33 214.89 L118.33 215.89 L125.52 215.89 L125.52 216.89 L132.19 216.89 L132.19 217.89 L138.86 217.89 L138.86 218.89 L145.53 218.89 L145.53 219.89 L152.21 219.89 L152.21 220.88 L168.63 220.88 L168.63 222.35 L214.32 222.35 L214.32 247.06 L142.97 247.06 L142.97 231.54 L132.19 231.54 L132.19 230.54 L125.52 230.54 L125.52 228.88 L118.33 228.88 L118.33 227.21 L111.91 227.21 L111.91 225.55 L104.98 225.55 L104.98 223.88 L98.31 223.88 L98.31 221.22 L91.64 221.22 L91.64 218.55 L84.97 218.55 L84.97 213.23 L78.29 213.23 L78.29 209.23 L72.13 209.23 L72.13 205.9 L67 205.9Z" fill="rgba(130,198,118,0.40)" stroke="none"/>
<path d="M67 205.9 L72.13 205.9 L72.13 206.23 L78.29 206.23 L78.29 206.77 L84.97 206.77 L84.97 209.7 L91.64 209.7 L91.64 211.23 L98.31 211.23 L98.31 212.43 L104.98 212.43 L104.98 213.89 L111.91 213.89 L111.91 215.09 L118.33 215.09 L118.33 216.22 L125.52 216.22 L125.52 217.09 L132.19 217.09 L132.19 218.22 L138.86 218.22 L138.86 219.09 L145.53 219.09 L145.53 220.22 L152.21 220.22 L152.21 221.22 L168.63 221.22 L168.63 221.88 L177.36 221.88 L177.36 224.88 L225.61 224.88 L225.61 247.06 L177.36 247.06 L177.36 237.47 L161.96 237.47 L161.96 233.27 L152.21 233.27 L152.21 232.54 L145.53 232.54 L145.53 231.87 L138.86 231.87 L138.86 230.88 L132.19 230.88 L132.19 229.88 L125.52 229.88 L125.52 228.21 L118.33 228.21 L118.33 226.55 L111.91 226.55 L111.91 224.88 L104.98 224.88 L104.98 223.22 L98.31 223.22 L98.31 220.55 L91.64 220.55 L91.64 217.82 L84.97 217.82 L84.97 212.43 L78.29 212.43 L78.29 208.56 L72.13 208.56 L72.13 205.9 L67 205.9Z" fill="rgba(220,100,85,0.40)" stroke="none"/>
<path d="M67 205.9H73.16V206.9H78.29V208.36H84.91V211.63H90.61V215.69H94.67V218.15H102.88V219.02H110.99V220.62H119.87V222.55H124.13V224.68H133.88V227.15H141.94V228.74H143.74V234.74H177.36V236.34H214.32" fill="none" stroke="#468c46" stroke-width="1.0"/>
<path d="M82.4 206.96V209.76" stroke="#468c46" stroke-width="0.9"/>
<path d="M97.8 216.75V219.55" stroke="#468c46" stroke-width="0.9"/>
<path d="M113.2 219.22V222.02" stroke="#468c46" stroke-width="0.9"/>
<path d="M128.6 223.28V226.08" stroke="#468c46" stroke-width="0.9"/>
<path d="M149.13 233.34V236.14" stroke="#468c46" stroke-width="0.9"/>
<path d="M159.39 233.34V236.14" stroke="#468c46" stroke-width="0.9"/>
<path d="M169.66 233.34V236.14" stroke="#468c46" stroke-width="0.9"/>
<path d="M190.19 234.94V237.74" stroke="#468c46" stroke-width="0.9"/>
<path d="M203.02 234.94V237.74" stroke="#468c46" stroke-width="0.9"/>
<path d="M208.16 234.94V237.74" stroke="#468c46" stroke-width="0.9"/>
<path d="M67 205.9H73.16V207.23H78.29V209.16H83.43V213.29H88.05V215.69H94.72V217.36H100.36V219.22H107.55V222.22H123.98V223.88H130.65V227.15H143.74V228.74H152.98V230.74H168.63V232.54H177.36V236.34H226.64" fill="none" stroke="#b01428" stroke-width="1.45"/>
<path d="M79.83 207.76V210.56" stroke="#b01428" stroke-width="0.9"/>
<path d="M90.1 214.29V217.09" stroke="#b01428" stroke-width="0.9"/>
<path d="M97.8 215.96V218.76" stroke="#b01428" stroke-width="0.9"/>
<path d="M102.93 217.82V220.62" stroke="#b01428" stroke-width="0.9"/>
<path d="M110.63 220.82V223.62" stroke="#b01428" stroke-width="0.9"/>
<path d="M115.76 220.82V223.62" stroke="#b01428" stroke-width="0.9"/>
<path d="M118.33 220.82V223.62" stroke="#b01428" stroke-width="0.9"/>
<path d="M133.73 225.75V228.55" stroke="#b01428" stroke-width="0.9"/>
<path d="M146.56 227.34V230.14" stroke="#b01428" stroke-width="0.9"/>
<path d="M149.13 227.34V230.14" stroke="#b01428" stroke-width="0.9"/>
<path d="M156.83 229.34V232.14" stroke="#b01428" stroke-width="0.9"/>
<path d="M161.96 229.34V232.14" stroke="#b01428" stroke-width="0.9"/>
<path d="M164.53 229.34V232.14" stroke="#b01428" stroke-width="0.9"/>
<path d="M172.23 231.14V233.94" stroke="#b01428" stroke-width="0.9"/>
<path d="M190.19 234.94V237.74" stroke="#b01428" stroke-width="0.9"/>
<path d="M200.46 234.94V237.74" stroke="#b01428" stroke-width="0.9"/>
<path d="M210.72 234.94V237.74" stroke="#b01428" stroke-width="0.9"/>
<path d="M218.42 234.94V237.74" stroke="#b01428" stroke-width="0.9"/>
<path d="M223.56 234.94V237.74" stroke="#b01428" stroke-width="0.9"/>
<path d="M59.5 203.2V276.4M58.9 275.8H228" stroke="#141414" stroke-width="1.2" fill="none"/>
<path d="M57 272.5H59.5" stroke="#141414" stroke-width="0.8"/>
<text x="54.6" y="274.6" font-size="5.8" text-anchor="end" fill="#2a2a2a" stroke="#2a2a2a" stroke-width="0.1">0.0</text>
<path d="M57 259.18H59.5" stroke="#141414" stroke-width="0.8"/>
<text x="54.6" y="261.28" font-size="5.8" text-anchor="end" fill="#2a2a2a" stroke="#2a2a2a" stroke-width="0.1">0.2</text>
<path d="M57 245.86H59.5" stroke="#141414" stroke-width="0.8"/>
<text x="54.6" y="247.96" font-size="5.8" text-anchor="end" fill="#2a2a2a" stroke="#2a2a2a" stroke-width="0.1">0.4</text>
<path d="M57 232.54H59.5" stroke="#141414" stroke-width="0.8"/>
<text x="54.6" y="234.64" font-size="5.8" text-anchor="end" fill="#2a2a2a" stroke="#2a2a2a" stroke-width="0.1">0.6</text>
<path d="M57 219.22H59.5" stroke="#141414" stroke-width="0.8"/>
<text x="54.6" y="221.32" font-size="5.8" text-anchor="end" fill="#2a2a2a" stroke="#2a2a2a" stroke-width="0.1">0.8</text>
<path d="M57 205.9H59.5" stroke="#141414" stroke-width="0.8"/>
<text x="54.6" y="208" font-size="5.8" text-anchor="end" fill="#2a2a2a" stroke="#2a2a2a" stroke-width="0.1">1.0</text>
<path d="M67 275.8V278.5" stroke="#141414" stroke-width="0.8"/>
<text x="67" y="286.8" font-size="5.8" text-anchor="middle" fill="#2a2a2a" stroke="#2a2a2a" stroke-width="0.1">0</text>
<path d="M97.8 275.8V278.5" stroke="#141414" stroke-width="0.8"/>
<text x="97.8" y="286.8" font-size="5.8" text-anchor="middle" fill="#2a2a2a" stroke="#2a2a2a" stroke-width="0.1">6</text>
<path d="M128.6 275.8V278.5" stroke="#141414" stroke-width="0.8"/>
<text x="128.6" y="286.8" font-size="5.8" text-anchor="middle" fill="#2a2a2a" stroke="#2a2a2a" stroke-width="0.1">12</text>
<path d="M159.39 275.8V278.5" stroke="#141414" stroke-width="0.8"/>
<text x="159.39" y="286.8" font-size="5.8" text-anchor="middle" fill="#2a2a2a" stroke="#2a2a2a" stroke-width="0.1">18</text>
<path d="M190.19 275.8V278.5" stroke="#141414" stroke-width="0.8"/>
<text x="190.19" y="286.8" font-size="5.8" text-anchor="middle" fill="#2a2a2a" stroke="#2a2a2a" stroke-width="0.1">24</text>
<path d="M220.99 275.8V278.5" stroke="#141414" stroke-width="0.8"/>
<text x="220.99" y="286.8" font-size="5.8" text-anchor="middle" fill="#2a2a2a" stroke="#2a2a2a" stroke-width="0.1">30</text>
<text transform="translate(144,298) scale(0.58,1)" x="0" y="0" font-size="8.5" font-weight="bold" text-anchor="middle" fill="#1a1a1a" stroke="#1a1a1a" stroke-width="0.08">Months</text>
<text transform="translate(41,239.5) rotate(-90) scale(0.58,1)" x="0" y="0" font-size="8.5" font-weight="bold" text-anchor="middle" fill="#1a1a1a" stroke="#1a1a1a" stroke-width="0.08">Overall survival</text>
<text x="66.3" y="260.6" font-size="6.05" fill="#2a2a2a" stroke="#2a2a2a" stroke-width="0.1">HR = 1.05 (0.56-1.93)</text>
<text x="66.3" y="267.4" font-size="6.05" fill="#2a2a2a" stroke="#2a2a2a" stroke-width="0.1"><tspan font-style="italic">P</tspan> = .88</text>
<text x="60" y="308.1" font-size="5.8" fill="#2a2a2a" stroke="#2a2a2a" stroke-width="0.1">Number at risk</text>
<path d="M59.5 312V325M59 324.5H228" stroke="#141414" stroke-width="1" fill="none"/>
<path d="M57 315H59.5" stroke="#141414" stroke-width="0.8"/>
<text x="54" y="317.1" font-size="5.8" text-anchor="end" fill="#cc2a48" stroke="#cc2a48" stroke-width="0.1">No</text>
<text x="67" y="317.1" font-size="5.8" text-anchor="middle" fill="#2a2a2a" stroke="#2a2a2a" stroke-width="0.1">85</text>
<text x="97.8" y="317.1" font-size="5.8" text-anchor="middle" fill="#2a2a2a" stroke="#2a2a2a" stroke-width="0.1">55</text>
<text x="128.6" y="317.1" font-size="5.8" text-anchor="middle" fill="#2a2a2a" stroke="#2a2a2a" stroke-width="0.1">42</text>
<text x="159.39" y="317.1" font-size="5.8" text-anchor="middle" fill="#2a2a2a" stroke="#2a2a2a" stroke-width="0.1">24</text>
<text x="190.19" y="317.1" font-size="5.8" text-anchor="middle" fill="#2a2a2a" stroke="#2a2a2a" stroke-width="0.1">11</text>
<text x="220.99" y="317.1" font-size="5.8" text-anchor="middle" fill="#2a2a2a" stroke="#2a2a2a" stroke-width="0.1">2</text>
<path d="M57 321.3H59.5" stroke="#141414" stroke-width="0.8"/>
<text x="54" y="323.4" font-size="5.8" text-anchor="end" fill="#4aa84a" stroke="#4aa84a" stroke-width="0.1">Yes</text>
<text x="67" y="323.4" font-size="5.8" text-anchor="middle" fill="#2a2a2a" stroke="#2a2a2a" stroke-width="0.1">54</text>
<text x="97.8" y="323.4" font-size="5.8" text-anchor="middle" fill="#2a2a2a" stroke="#2a2a2a" stroke-width="0.1">39</text>
<text x="128.6" y="323.4" font-size="5.8" text-anchor="middle" fill="#2a2a2a" stroke="#2a2a2a" stroke-width="0.1">22</text>
<text x="159.39" y="323.4" font-size="5.8" text-anchor="middle" fill="#2a2a2a" stroke="#2a2a2a" stroke-width="0.1">8</text>
<text x="190.19" y="323.4" font-size="5.8" text-anchor="middle" fill="#2a2a2a" stroke="#2a2a2a" stroke-width="0.1">4</text>
<text x="220.99" y="323.4" font-size="5.8" text-anchor="middle" fill="#2a2a2a" stroke="#2a2a2a" stroke-width="0.1">0</text>
<path d="M67 324.5V327.2" stroke="#141414" stroke-width="0.8"/>
<text x="67" y="335.8" font-size="5.8" text-anchor="middle" fill="#2a2a2a" stroke="#2a2a2a" stroke-width="0.1">0</text>
<path d="M97.8 324.5V327.2" stroke="#141414" stroke-width="0.8"/>
<text x="97.8" y="335.8" font-size="5.8" text-anchor="middle" fill="#2a2a2a" stroke="#2a2a2a" stroke-width="0.1">6</text>
<path d="M128.6 324.5V327.2" stroke="#141414" stroke-width="0.8"/>
<text x="128.6" y="335.8" font-size="5.8" text-anchor="middle" fill="#2a2a2a" stroke="#2a2a2a" stroke-width="0.1">12</text>
<path d="M159.39 324.5V327.2" stroke="#141414" stroke-width="0.8"/>
<text x="159.39" y="335.8" font-size="5.8" text-anchor="middle" fill="#2a2a2a" stroke="#2a2a2a" stroke-width="0.1">18</text>
<path d="M190.19 324.5V327.2" stroke="#141414" stroke-width="0.8"/>
<text x="190.19" y="335.8" font-size="5.8" text-anchor="middle" fill="#2a2a2a" stroke="#2a2a2a" stroke-width="0.1">24</text>
<path d="M220.99 324.5V327.2" stroke="#141414" stroke-width="0.8"/>
<text x="220.99" y="335.8" font-size="5.8" text-anchor="middle" fill="#2a2a2a" stroke="#2a2a2a" stroke-width="0.1">30</text>
<text transform="translate(144,346.7) scale(0.58,1)" x="0" y="0" font-size="8.5" font-weight="bold" text-anchor="middle" fill="#1a1a1a" stroke="#1a1a1a" stroke-width="0.08">Months</text>
<text transform="translate(40.3,318.75) rotate(-90) scale(0.71,1)" x="0" y="0" font-size="7.6" font-weight="normal" text-anchor="middle" fill="#222" stroke="#222" stroke-width="0.3">Rituximab</text>
<text x="276" y="197.8" font-size="11.3" font-weight="bold" fill="#111" stroke="#111" stroke-width="0.1">D</text>
<text x="378" y="198.9" font-size="5.8" fill="#2a2a2a" stroke="#2a2a2a" stroke-width="0.1">Age Group</text>
<rect x="412.8" y="194.2" width="6" height="5.2" fill="rgba(220,100,85,0.40)"/>
<path d="M413.1 196.8H418.7" stroke="#b01428" stroke-width="1.5" stroke-opacity="0.85"/>
<path d="M415.8 195.6V198" stroke="#b01428" stroke-width="0.8"/>
<text x="420.5" y="198.9" font-size="5.8" fill="#2a2a2a" stroke="#2a2a2a" stroke-width="0.1">Under 75</text>
<rect x="450.6" y="194.2" width="6" height="5.2" fill="rgba(130,198,118,0.40)"/>
<path d="M450.9 196.8H456.5" stroke="#468c46" stroke-width="1.5" stroke-opacity="0.85"/>
<path d="M453.6 195.6V198" stroke="#468c46" stroke-width="0.8"/>
<text x="458.8" y="198.9" font-size="5.8" fill="#2a2a2a" stroke="#2a2a2a" stroke-width="0.1">Over 75</text>
<path d="M352.4 205.9 L359.07 205.9 L359.07 206.57 L365.23 206.57 L365.23 208.7 L372.93 208.7 L372.93 212.56 L380.63 212.56 L380.63 217.09 L396.03 217.09 L396.03 220.15 L411.43 220.15 L411.43 223.28 L426.83 223.28 L426.83 225.55 L439.15 225.55 L439.15 227.88 L463.27 227.88 L463.27 229.54 L500.23 229.54 L500.23 255.52 L463.27 255.52 L463.27 247.72 L439.15 247.72 L439.15 241.66 L430.42 241.66 L430.42 240.13 L426.83 240.13 L426.83 237.87 L419.13 237.87 L419.13 236.34 L411.43 236.34 L411.43 233.94 L403.73 233.94 L403.73 231.67 L399.11 231.67 L399.11 230.94 L388.33 230.94 L388.33 229.34 L380.63 229.34 L380.63 220.15 L372.93 220.15 L372.93 214.03 L365.23 214.03 L365.23 210.56 L359.07 210.56 L359.07 205.9 L352.4 205.9Z" fill="rgba(130,198,118,0.40)" stroke="none"/>
<path d="M352.4 205.9 L365.23 205.9 L365.23 206.37 L380.63 206.37 L380.63 208.7 L396.03 208.7 L396.03 212.49 L411.43 212.49 L411.43 214.76 L426.83 214.76 L426.83 216.36 L429.39 216.36 L429.39 217.49 L511.01 217.49 L511.01 237.87 L454.55 237.87 L454.55 232.74 L442.74 232.74 L442.74 231.54 L430.93 231.54 L430.93 229.81 L419.64 229.81 L419.64 226.88 L407.84 226.88 L407.84 223.48 L396.54 223.48 L396.54 222.22 L388.33 222.22 L388.33 219.22 L380.63 219.22 L380.63 214.76 L372.93 214.76 L372.93 211.69 L365.23 211.69 L365.23 209.23 L359.07 209.23 L359.07 205.9 L352.4 205.9Z" fill="rgba(220,100,85,0.40)" stroke="none"/>
<path d="M352.4 205.9H355.99V207.1H362.15V209.36H366.77V212.49H371.39V216.36H376.01V220.15H380.63V223.95H382.17V224.75H399.11V225.55H402.19V227.08H408.35V228.68H412.97V230.14H417.59V231.67H423.75V233.27H428.37V233.87H430.42V236.47H439.15V239.67H463.27V245.13H500.23" fill="none" stroke="#468c46" stroke-width="1.0"/>
<path d="M362.67 207.96V210.76" stroke="#468c46" stroke-width="0.9"/>
<path d="M383.2 223.35V226.15" stroke="#468c46" stroke-width="0.9"/>
<path d="M388.33 223.35V226.15" stroke="#468c46" stroke-width="0.9"/>
<path d="M393.46 223.35V226.15" stroke="#468c46" stroke-width="0.9"/>
<path d="M406.3 225.68V228.48" stroke="#468c46" stroke-width="0.9"/>
<path d="M414 228.74V231.54" stroke="#468c46" stroke-width="0.9"/>
<path d="M416.56 228.74V231.54" stroke="#468c46" stroke-width="0.9"/>
<path d="M431.96 235.07V237.87" stroke="#468c46" stroke-width="0.9"/>
<path d="M434.53 235.07V237.87" stroke="#468c46" stroke-width="0.9"/>
<path d="M439.66 238.27V241.07" stroke="#468c46" stroke-width="0.9"/>
<path d="M442.23 238.27V241.07" stroke="#468c46" stroke-width="0.9"/>
<path d="M444.79 238.27V241.07" stroke="#468c46" stroke-width="0.9"/>
<path d="M447.36 238.27V241.07" stroke="#468c46" stroke-width="0.9"/>
<path d="M449.93 238.27V241.07" stroke="#468c46" stroke-width="0.9"/>
<path d="M483.29 243.73V246.53" stroke="#468c46" stroke-width="0.9"/>
<path d="M488.42 243.73V246.53" stroke="#468c46" stroke-width="0.9"/>
<path d="M493.56 243.73V246.53" stroke="#468c46" stroke-width="0.9"/>
<path d="M498.69 243.73V246.53" stroke="#468c46" stroke-width="0.9"/>
<path d="M352.4 205.9H359.07V207.1H365.23V208.7H371.39V210.23H377.55V211.69H385.25V214.03H391.41V216.36H396.03V218.35H403.73V219.42H411.43V220.95H420.67V221.95H426.83V223.28H429.39V225.28H454.55V229.08H512.04" fill="none" stroke="#b01428" stroke-width="1.45"/>
<path d="M362.67 205.7V208.5" stroke="#b01428" stroke-width="0.9"/>
<path d="M367.8 207.3V210.1" stroke="#b01428" stroke-width="0.9"/>
<path d="M375.5 208.83V211.63" stroke="#b01428" stroke-width="0.9"/>
<path d="M383.2 210.29V213.09" stroke="#b01428" stroke-width="0.9"/>
<path d="M393.46 214.96V217.76" stroke="#b01428" stroke-width="0.9"/>
<path d="M398.6 216.95V219.75" stroke="#b01428" stroke-width="0.9"/>
<path d="M401.16 216.95V219.75" stroke="#b01428" stroke-width="0.9"/>
<path d="M408.86 218.02V220.82" stroke="#b01428" stroke-width="0.9"/>
<path d="M416.56 219.55V222.35" stroke="#b01428" stroke-width="0.9"/>
<path d="M419.13 219.55V222.35" stroke="#b01428" stroke-width="0.9"/>
<path d="M421.7 220.55V223.35" stroke="#b01428" stroke-width="0.9"/>
<path d="M429.39 223.88V226.68" stroke="#b01428" stroke-width="0.9"/>
<path d="M433.5 223.88V226.68" stroke="#b01428" stroke-width="0.9"/>
<path d="M437.61 223.88V226.68" stroke="#b01428" stroke-width="0.9"/>
<path d="M442.23 223.88V226.68" stroke="#b01428" stroke-width="0.9"/>
<path d="M444.79 223.88V226.68" stroke="#b01428" stroke-width="0.9"/>
<path d="M447.36 223.88V226.68" stroke="#b01428" stroke-width="0.9"/>
<path d="M449.93 223.88V226.68" stroke="#b01428" stroke-width="0.9"/>
<path d="M480.72 227.68V230.48" stroke="#b01428" stroke-width="0.9"/>
<path d="M485.86 227.68V230.48" stroke="#b01428" stroke-width="0.9"/>
<path d="M493.56 227.68V230.48" stroke="#b01428" stroke-width="0.9"/>
<path d="M498.69 227.68V230.48" stroke="#b01428" stroke-width="0.9"/>
<path d="M503.82 227.68V230.48" stroke="#b01428" stroke-width="0.9"/>
<path d="M508.96 227.68V230.48" stroke="#b01428" stroke-width="0.9"/>
<path d="M344.9 203.2V276.4M344.3 275.8H513.4" stroke="#141414" stroke-width="1.2" fill="none"/>
<path d="M342.4 272.5H344.9" stroke="#141414" stroke-width="0.8"/>
<text x="340" y="274.6" font-size="5.8" text-anchor="end" fill="#2a2a2a" stroke="#2a2a2a" stroke-width="0.1">0.0</text>
<path d="M342.4 259.18H344.9" stroke="#141414" stroke-width="0.8"/>
<text x="340" y="261.28" font-size="5.8" text-anchor="end" fill="#2a2a2a" stroke="#2a2a2a" stroke-width="0.1">0.2</text>
<path d="M342.4 245.86H344.9" stroke="#141414" stroke-width="0.8"/>
<text x="340" y="247.96" font-size="5.8" text-anchor="end" fill="#2a2a2a" stroke="#2a2a2a" stroke-width="0.1">0.4</text>
<path d="M342.4 232.54H344.9" stroke="#141414" stroke-width="0.8"/>
<text x="340" y="234.64" font-size="5.8" text-anchor="end" fill="#2a2a2a" stroke="#2a2a2a" stroke-width="0.1">0.6</text>
<path d="M342.4 219.22H344.9" stroke="#141414" stroke-width="0.8"/>
<text x="340" y="221.32" font-size="5.8" text-anchor="end" fill="#2a2a2a" stroke="#2a2a2a" stroke-width="0.1">0.8</text>
<path d="M342.4 205.9H344.9" stroke="#141414" stroke-width="0.8"/>
<text x="340" y="208" font-size="5.8" text-anchor="end" fill="#2a2a2a" stroke="#2a2a2a" stroke-width="0.1">1.0</text>
<path d="M352.4 275.8V278.5" stroke="#141414" stroke-width="0.8"/>
<text x="352.4" y="286.8" font-size="5.8" text-anchor="middle" fill="#2a2a2a" stroke="#2a2a2a" stroke-width="0.1">0</text>
<path d="M383.2 275.8V278.5" stroke="#141414" stroke-width="0.8"/>
<text x="383.2" y="286.8" font-size="5.8" text-anchor="middle" fill="#2a2a2a" stroke="#2a2a2a" stroke-width="0.1">6</text>
<path d="M414 275.8V278.5" stroke="#141414" stroke-width="0.8"/>
<text x="414" y="286.8" font-size="5.8" text-anchor="middle" fill="#2a2a2a" stroke="#2a2a2a" stroke-width="0.1">12</text>
<path d="M444.79 275.8V278.5" stroke="#141414" stroke-width="0.8"/>
<text x="444.79" y="286.8" font-size="5.8" text-anchor="middle" fill="#2a2a2a" stroke="#2a2a2a" stroke-width="0.1">18</text>
<path d="M475.59 275.8V278.5" stroke="#141414" stroke-width="0.8"/>
<text x="475.59" y="286.8" font-size="5.8" text-anchor="middle" fill="#2a2a2a" stroke="#2a2a2a" stroke-width="0.1">24</text>
<path d="M506.39 275.8V278.5" stroke="#141414" stroke-width="0.8"/>
<text x="506.39" y="286.8" font-size="5.8" text-anchor="middle" fill="#2a2a2a" stroke="#2a2a2a" stroke-width="0.1">30</text>
<text transform="translate(429.4,298) scale(0.58,1)" x="0" y="0" font-size="8.5" font-weight="bold" text-anchor="middle" fill="#1a1a1a" stroke="#1a1a1a" stroke-width="0.08">Months</text>
<text transform="translate(326.4,239.5) rotate(-90) scale(0.58,1)" x="0" y="0" font-size="8.5" font-weight="bold" text-anchor="middle" fill="#1a1a1a" stroke="#1a1a1a" stroke-width="0.08">Overall survival</text>
<text x="351.7" y="260.6" font-size="6.05" fill="#2a2a2a" stroke="#2a2a2a" stroke-width="0.1">1.94 (1.06-3.57)</text>
<text x="351.7" y="267.4" font-size="6.05" fill="#2a2a2a" stroke="#2a2a2a" stroke-width="0.1"><tspan font-style="italic">P</tspan> = .03</text>
<text x="345.4" y="308.1" font-size="5.8" fill="#2a2a2a" stroke="#2a2a2a" stroke-width="0.1">Number at risk</text>
<path d="M344.9 312V325M344.4 324.5H513.4" stroke="#141414" stroke-width="1" fill="none"/>
<path d="M342.4 315H344.9" stroke="#141414" stroke-width="0.8"/>
<text x="339.4" y="317.1" font-size="5.8" text-anchor="end" fill="#cc2a48" stroke="#cc2a48" stroke-width="0.1">Under 75</text>
<text x="352.4" y="317.1" font-size="5.8" text-anchor="middle" fill="#2a2a2a" stroke="#2a2a2a" stroke-width="0.1">68</text>
<text x="383.2" y="317.1" font-size="5.8" text-anchor="middle" fill="#2a2a2a" stroke="#2a2a2a" stroke-width="0.1">54</text>
<text x="414" y="317.1" font-size="5.8" text-anchor="middle" fill="#2a2a2a" stroke="#2a2a2a" stroke-width="0.1">36</text>
<text x="444.79" y="317.1" font-size="5.8" text-anchor="middle" fill="#2a2a2a" stroke="#2a2a2a" stroke-width="0.1">22</text>
<text x="475.59" y="317.1" font-size="5.8" text-anchor="middle" fill="#2a2a2a" stroke="#2a2a2a" stroke-width="0.1">10</text>
<text x="506.39" y="317.1" font-size="5.8" text-anchor="middle" fill="#2a2a2a" stroke="#2a2a2a" stroke-width="0.1">2</text>
<path d="M342.4 321.3H344.9" stroke="#141414" stroke-width="0.8"/>
<text x="339.4" y="323.4" font-size="5.8" text-anchor="end" fill="#4aa84a" stroke="#4aa84a" stroke-width="0.1">Over 75</text>
<text x="352.4" y="323.4" font-size="5.8" text-anchor="middle" fill="#2a2a2a" stroke="#2a2a2a" stroke-width="0.1">71</text>
<text x="383.2" y="323.4" font-size="5.8" text-anchor="middle" fill="#2a2a2a" stroke="#2a2a2a" stroke-width="0.1">40</text>
<text x="414" y="323.4" font-size="5.8" text-anchor="middle" fill="#2a2a2a" stroke="#2a2a2a" stroke-width="0.1">28</text>
<text x="444.79" y="323.4" font-size="5.8" text-anchor="middle" fill="#2a2a2a" stroke="#2a2a2a" stroke-width="0.1">10</text>
<text x="475.59" y="323.4" font-size="5.8" text-anchor="middle" fill="#2a2a2a" stroke="#2a2a2a" stroke-width="0.1">5</text>
<text x="506.39" y="323.4" font-size="5.8" text-anchor="middle" fill="#2a2a2a" stroke="#2a2a2a" stroke-width="0.1">0</text>
<path d="M352.4 324.5V327.2" stroke="#141414" stroke-width="0.8"/>
<text x="352.4" y="335.8" font-size="5.8" text-anchor="middle" fill="#2a2a2a" stroke="#2a2a2a" stroke-width="0.1">0</text>
<path d="M383.2 324.5V327.2" stroke="#141414" stroke-width="0.8"/>
<text x="383.2" y="335.8" font-size="5.8" text-anchor="middle" fill="#2a2a2a" stroke="#2a2a2a" stroke-width="0.1">6</text>
<path d="M414 324.5V327.2" stroke="#141414" stroke-width="0.8"/>
<text x="414" y="335.8" font-size="5.8" text-anchor="middle" fill="#2a2a2a" stroke="#2a2a2a" stroke-width="0.1">12</text>
<path d="M444.79 324.5V327.2" stroke="#141414" stroke-width="0.8"/>
<text x="444.79" y="335.8" font-size="5.8" text-anchor="middle" fill="#2a2a2a" stroke="#2a2a2a" stroke-width="0.1">18</text>
<path d="M475.59 324.5V327.2" stroke="#141414" stroke-width="0.8"/>
<text x="475.59" y="335.8" font-size="5.8" text-anchor="middle" fill="#2a2a2a" stroke="#2a2a2a" stroke-width="0.1">24</text>
<path d="M506.39 324.5V327.2" stroke="#141414" stroke-width="0.8"/>
<text x="506.39" y="335.8" font-size="5.8" text-anchor="middle" fill="#2a2a2a" stroke="#2a2a2a" stroke-width="0.1">30</text>
<text transform="translate(429.4,346.7) scale(0.58,1)" x="0" y="0" font-size="8.5" font-weight="bold" text-anchor="middle" fill="#1a1a1a" stroke="#1a1a1a" stroke-width="0.08">Months</text>
<text transform="translate(310,318.2) rotate(-90) scale(0.66,1)" x="0" y="0" font-size="8.0" font-weight="normal" text-anchor="middle" fill="#222" stroke="#222" stroke-width="0.3">Age group</text>
<text x="6" y="375.8" font-size="11.3" font-weight="bold" fill="#111" stroke="#111" stroke-width="0.1">E</text>
<text x="82" y="376.3" font-size="5.8" fill="#2a2a2a" stroke="#2a2a2a" stroke-width="0.1">LDH ratio</text>
<rect x="112.8" y="371.6" width="6" height="5.2" fill="rgba(220,100,85,0.40)"/>
<path d="M113.1 374.2H118.7" stroke="#b01428" stroke-width="1.5" stroke-opacity="0.85"/>
<path d="M115.8 373V375.4" stroke="#b01428" stroke-width="0.8"/>
<text x="120.7" y="376.3" font-size="5.8" fill="#2a2a2a" stroke="#2a2a2a" stroke-width="0.1">LDH/ULN &lt;1</text>
<rect x="161.2" y="371.6" width="6" height="5.2" fill="rgba(130,198,118,0.40)"/>
<path d="M161.5 374.2H167.1" stroke="#468c46" stroke-width="1.5" stroke-opacity="0.85"/>
<path d="M164.2 373V375.4" stroke="#468c46" stroke-width="0.8"/>
<text x="169.2" y="376.3" font-size="5.8" fill="#2a2a2a" stroke="#2a2a2a" stroke-width="0.1">LDH/ULN ≥ 1</text>
<path d="M67 383.9 L72.13 383.9 L72.13 384.23 L79.32 384.23 L79.32 385.9 L88.56 385.9 L88.56 392.56 L94.72 392.56 L94.72 395.22 L105.5 395.22 L105.5 400.22 L120.9 400.22 L120.9 402.55 L128.6 402.55 L128.6 406.01 L140.92 406.01 L140.92 407.88 L144 407.88 L144 409.87 L177.87 409.87 L177.87 408.88 L222.53 408.88 L222.53 433.12 L169.15 433.12 L169.15 427.66 L144 427.66 L144 423.53 L140.92 423.53 L140.92 421.26 L133.22 421.26 L133.22 418.93 L125.52 418.93 L125.52 416.67 L117.82 416.67 L117.82 413.54 L110.12 413.54 L110.12 410.47 L102.42 410.47 L102.42 406.68 L94.72 406.68 L94.72 401.28 L87.02 401.28 L87.02 395.09 L79.32 395.09 L79.32 389.23 L71.62 389.23 L71.62 383.9 L67 383.9Z" fill="rgba(130,198,118,0.40)" stroke="none"/>
<path d="M67 383.9 L82.4 383.9 L82.4 383.9 L94.72 383.9 L94.72 385.1 L110.12 385.1 L110.12 386.7 L125.52 386.7 L125.52 388.23 L140.92 388.23 L140.92 389.69 L144 389.69 L144 390.83 L225.61 390.83 L225.61 417.67 L177.87 417.67 L177.87 408.41 L144 408.41 L144 407.68 L141.94 407.68 L141.94 402.48 L130.65 402.48 L130.65 399.02 L113.2 399.02 L113.2 396.09 L90.61 396.09 L90.61 392.56 L88.56 392.56 L88.56 388.56 L84.97 388.56 L84.97 385.9 L77.27 385.9 L77.27 383.9 L67 383.9Z" fill="rgba(220,100,85,0.40)" stroke="none"/>
<path d="M67 383.9H67.51V384.03H71.62V385.9H74.7V387.7H79.32V390.49H83.94V393.56H87.02V396.69H91.64V399.68H96.26V401.95H102.42V403.55H107.04V406.68H113.2V408.14H117.82V410.47H125.52V412.74H131.68V415.07H137.84V416.67H142.46V418.93H144V420.13H169.15V424.39H222.53" fill="none" stroke="#468c46" stroke-width="1.0"/>
<path d="M84.97 392.16V394.96" stroke="#468c46" stroke-width="0.9"/>
<path d="M96.77 400.55V403.35" stroke="#468c46" stroke-width="0.9"/>
<path d="M103.96 402.15V404.95" stroke="#468c46" stroke-width="0.9"/>
<path d="M109.09 405.28V408.08" stroke="#468c46" stroke-width="0.9"/>
<path d="M118.33 409.07V411.87" stroke="#468c46" stroke-width="0.9"/>
<path d="M120.9 409.07V411.87" stroke="#468c46" stroke-width="0.9"/>
<path d="M126.54 411.34V414.14" stroke="#468c46" stroke-width="0.9"/>
<path d="M131.68 413.67V416.47" stroke="#468c46" stroke-width="0.9"/>
<path d="M137.84 415.27V418.07" stroke="#468c46" stroke-width="0.9"/>
<path d="M149.13 418.73V421.53" stroke="#468c46" stroke-width="0.9"/>
<path d="M154.26 418.73V421.53" stroke="#468c46" stroke-width="0.9"/>
<path d="M156.83 418.73V421.53" stroke="#468c46" stroke-width="0.9"/>
<path d="M159.39 418.73V421.53" stroke="#468c46" stroke-width="0.9"/>
<path d="M161.96 418.73V421.53" stroke="#468c46" stroke-width="0.9"/>
<path d="M164.53 418.73V421.53" stroke="#468c46" stroke-width="0.9"/>
<path d="M197.89 422.99V425.79" stroke="#468c46" stroke-width="0.9"/>
<path d="M208.16 422.99V425.79" stroke="#468c46" stroke-width="0.9"/>
<path d="M210.72 422.99V425.79" stroke="#468c46" stroke-width="0.9"/>
<path d="M213.29 422.99V425.79" stroke="#468c46" stroke-width="0.9"/>
<path d="M215.86 422.99V425.79" stroke="#468c46" stroke-width="0.9"/>
<path d="M67 383.9H76.24V384.03H79.32V384.7H85.48V385.9H88.56V388.23H91.64V390.23H97.8V391.29H107.04V391.69H113.2V392.36H117.82V393.56H125.52V395.09H133.22V396.35H139.89V396.95H142.97V399.68H144.51V400.68H177.87V406.41H226.12" fill="none" stroke="#b01428" stroke-width="1.45"/>
<path d="M72.13 382.5V385.3" stroke="#b01428" stroke-width="0.9"/>
<path d="M79.83 383.3V386.1" stroke="#b01428" stroke-width="0.9"/>
<path d="M100.36 389.89V392.69" stroke="#b01428" stroke-width="0.9"/>
<path d="M102.93 389.89V392.69" stroke="#b01428" stroke-width="0.9"/>
<path d="M105.5 389.89V392.69" stroke="#b01428" stroke-width="0.9"/>
<path d="M108.06 390.29V393.09" stroke="#b01428" stroke-width="0.9"/>
<path d="M110.63 390.29V393.09" stroke="#b01428" stroke-width="0.9"/>
<path d="M113.2 390.96V393.76" stroke="#b01428" stroke-width="0.9"/>
<path d="M118.33 392.16V394.96" stroke="#b01428" stroke-width="0.9"/>
<path d="M123.46 392.16V394.96" stroke="#b01428" stroke-width="0.9"/>
<path d="M131.16 393.69V396.49" stroke="#b01428" stroke-width="0.9"/>
<path d="M133.73 394.95V397.75" stroke="#b01428" stroke-width="0.9"/>
<path d="M136.3 394.95V397.75" stroke="#b01428" stroke-width="0.9"/>
<path d="M146.56 399.28V402.08" stroke="#b01428" stroke-width="0.9"/>
<path d="M151.69 399.28V402.08" stroke="#b01428" stroke-width="0.9"/>
<path d="M154.26 399.28V402.08" stroke="#b01428" stroke-width="0.9"/>
<path d="M156.83 399.28V402.08" stroke="#b01428" stroke-width="0.9"/>
<path d="M161.96 399.28V402.08" stroke="#b01428" stroke-width="0.9"/>
<path d="M164.53 399.28V402.08" stroke="#b01428" stroke-width="0.9"/>
<path d="M169.66 399.28V402.08" stroke="#b01428" stroke-width="0.9"/>
<path d="M195.32 405.01V407.81" stroke="#b01428" stroke-width="0.9"/>
<path d="M208.16 405.01V407.81" stroke="#b01428" stroke-width="0.9"/>
<path d="M210.72 405.01V407.81" stroke="#b01428" stroke-width="0.9"/>
<path d="M213.29 405.01V407.81" stroke="#b01428" stroke-width="0.9"/>
<path d="M218.42 405.01V407.81" stroke="#b01428" stroke-width="0.9"/>
<path d="M223.56 405.01V407.81" stroke="#b01428" stroke-width="0.9"/>
<path d="M59.5 381.2V454M58.9 453.4H228" stroke="#141414" stroke-width="1.2" fill="none"/>
<path d="M57 450.5H59.5" stroke="#141414" stroke-width="0.8"/>
<text x="54.6" y="452.6" font-size="5.8" text-anchor="end" fill="#2a2a2a" stroke="#2a2a2a" stroke-width="0.1">0.0</text>
<path d="M57 437.18H59.5" stroke="#141414" stroke-width="0.8"/>
<text x="54.6" y="439.28" font-size="5.8" text-anchor="end" fill="#2a2a2a" stroke="#2a2a2a" stroke-width="0.1">0.2</text>
<path d="M57 423.86H59.5" stroke="#141414" stroke-width="0.8"/>
<text x="54.6" y="425.96" font-size="5.8" text-anchor="end" fill="#2a2a2a" stroke="#2a2a2a" stroke-width="0.1">0.4</text>
<path d="M57 410.54H59.5" stroke="#141414" stroke-width="0.8"/>
<text x="54.6" y="412.64" font-size="5.8" text-anchor="end" fill="#2a2a2a" stroke="#2a2a2a" stroke-width="0.1">0.6</text>
<path d="M57 397.22H59.5" stroke="#141414" stroke-width="0.8"/>
<text x="54.6" y="399.32" font-size="5.8" text-anchor="end" fill="#2a2a2a" stroke="#2a2a2a" stroke-width="0.1">0.8</text>
<path d="M57 383.9H59.5" stroke="#141414" stroke-width="0.8"/>
<text x="54.6" y="386" font-size="5.8" text-anchor="end" fill="#2a2a2a" stroke="#2a2a2a" stroke-width="0.1">1.0</text>
<path d="M67 453.4V456.1" stroke="#141414" stroke-width="0.8"/>
<text x="67" y="464.8" font-size="5.8" text-anchor="middle" fill="#2a2a2a" stroke="#2a2a2a" stroke-width="0.1">0</text>
<path d="M97.8 453.4V456.1" stroke="#141414" stroke-width="0.8"/>
<text x="97.8" y="464.8" font-size="5.8" text-anchor="middle" fill="#2a2a2a" stroke="#2a2a2a" stroke-width="0.1">6</text>
<path d="M128.6 453.4V456.1" stroke="#141414" stroke-width="0.8"/>
<text x="128.6" y="464.8" font-size="5.8" text-anchor="middle" fill="#2a2a2a" stroke="#2a2a2a" stroke-width="0.1">12</text>
<path d="M159.39 453.4V456.1" stroke="#141414" stroke-width="0.8"/>
<text x="159.39" y="464.8" font-size="5.8" text-anchor="middle" fill="#2a2a2a" stroke="#2a2a2a" stroke-width="0.1">18</text>
<path d="M190.19 453.4V456.1" stroke="#141414" stroke-width="0.8"/>
<text x="190.19" y="464.8" font-size="5.8" text-anchor="middle" fill="#2a2a2a" stroke="#2a2a2a" stroke-width="0.1">24</text>
<path d="M220.99 453.4V456.1" stroke="#141414" stroke-width="0.8"/>
<text x="220.99" y="464.8" font-size="5.8" text-anchor="middle" fill="#2a2a2a" stroke="#2a2a2a" stroke-width="0.1">30</text>
<text transform="translate(144,476) scale(0.58,1)" x="0" y="0" font-size="8.5" font-weight="bold" text-anchor="middle" fill="#1a1a1a" stroke="#1a1a1a" stroke-width="0.08">Months</text>
<text transform="translate(41,417.5) rotate(-90) scale(0.58,1)" x="0" y="0" font-size="8.5" font-weight="bold" text-anchor="middle" fill="#1a1a1a" stroke="#1a1a1a" stroke-width="0.08">Overall survival</text>
<text x="66.3" y="438.6" font-size="6.05" fill="#2a2a2a" stroke="#2a2a2a" stroke-width="0.1">HR = 2.80 (1.42-5.52)</text>
<text x="66.3" y="445.4" font-size="6.05" fill="#2a2a2a" stroke="#2a2a2a" stroke-width="0.1"><tspan font-style="italic">P</tspan> = .003</text>
<text x="60" y="486.1" font-size="5.8" fill="#2a2a2a" stroke="#2a2a2a" stroke-width="0.1">Number at risk</text>
<path d="M59.5 490V503M59 502.5H228" stroke="#141414" stroke-width="1" fill="none"/>
<path d="M57 493H59.5" stroke="#141414" stroke-width="0.8"/>
<text x="54" y="495.1" font-size="5.8" text-anchor="end" fill="#cc2a48" stroke="#cc2a48" stroke-width="0.1" textLength="34.3" lengthAdjust="spacingAndGlyphs">LDH/ULN &lt;1</text>
<text x="67" y="495.1" font-size="5.8" text-anchor="middle" fill="#2a2a2a" stroke="#2a2a2a" stroke-width="0.1">55</text>
<text x="97.8" y="495.1" font-size="5.8" text-anchor="middle" fill="#2a2a2a" stroke="#2a2a2a" stroke-width="0.1">43</text>
<text x="128.6" y="495.1" font-size="5.8" text-anchor="middle" fill="#2a2a2a" stroke="#2a2a2a" stroke-width="0.1">32</text>
<text x="159.39" y="495.1" font-size="5.8" text-anchor="middle" fill="#2a2a2a" stroke="#2a2a2a" stroke-width="0.1">17</text>
<text x="190.19" y="495.1" font-size="5.8" text-anchor="middle" fill="#2a2a2a" stroke="#2a2a2a" stroke-width="0.1">7</text>
<text x="220.99" y="495.1" font-size="5.8" text-anchor="middle" fill="#2a2a2a" stroke="#2a2a2a" stroke-width="0.1">1</text>
<path d="M57 499.3H59.5" stroke="#141414" stroke-width="0.8"/>
<text x="54" y="501.4" font-size="5.8" text-anchor="end" fill="#4aa84a" stroke="#4aa84a" stroke-width="0.1" textLength="35.4" lengthAdjust="spacingAndGlyphs">LDH/ULN ≥ 1</text>
<text x="67" y="501.4" font-size="5.8" text-anchor="middle" fill="#2a2a2a" stroke="#2a2a2a" stroke-width="0.1">63</text>
<text x="97.8" y="501.4" font-size="5.8" text-anchor="middle" fill="#2a2a2a" stroke="#2a2a2a" stroke-width="0.1">37</text>
<text x="128.6" y="501.4" font-size="5.8" text-anchor="middle" fill="#2a2a2a" stroke="#2a2a2a" stroke-width="0.1">22</text>
<text x="159.39" y="501.4" font-size="5.8" text-anchor="middle" fill="#2a2a2a" stroke="#2a2a2a" stroke-width="0.1">10</text>
<text x="190.19" y="501.4" font-size="5.8" text-anchor="middle" fill="#2a2a2a" stroke="#2a2a2a" stroke-width="0.1">6</text>
<text x="220.99" y="501.4" font-size="5.8" text-anchor="middle" fill="#2a2a2a" stroke="#2a2a2a" stroke-width="0.1">1</text>
<path d="M67 502.5V505.2" stroke="#141414" stroke-width="0.8"/>
<text x="67" y="513.8" font-size="5.8" text-anchor="middle" fill="#2a2a2a" stroke="#2a2a2a" stroke-width="0.1">0</text>
<path d="M97.8 502.5V505.2" stroke="#141414" stroke-width="0.8"/>
<text x="97.8" y="513.8" font-size="5.8" text-anchor="middle" fill="#2a2a2a" stroke="#2a2a2a" stroke-width="0.1">6</text>
<path d="M128.6 502.5V505.2" stroke="#141414" stroke-width="0.8"/>
<text x="128.6" y="513.8" font-size="5.8" text-anchor="middle" fill="#2a2a2a" stroke="#2a2a2a" stroke-width="0.1">12</text>
<path d="M159.39 502.5V505.2" stroke="#141414" stroke-width="0.8"/>
<text x="159.39" y="513.8" font-size="5.8" text-anchor="middle" fill="#2a2a2a" stroke="#2a2a2a" stroke-width="0.1">18</text>
<path d="M190.19 502.5V505.2" stroke="#141414" stroke-width="0.8"/>
<text x="190.19" y="513.8" font-size="5.8" text-anchor="middle" fill="#2a2a2a" stroke="#2a2a2a" stroke-width="0.1">24</text>
<path d="M220.99 502.5V505.2" stroke="#141414" stroke-width="0.8"/>
<text x="220.99" y="513.8" font-size="5.8" text-anchor="middle" fill="#2a2a2a" stroke="#2a2a2a" stroke-width="0.1">30</text>
<text transform="translate(144,524.7) scale(0.58,1)" x="0" y="0" font-size="8.5" font-weight="bold" text-anchor="middle" fill="#1a1a1a" stroke="#1a1a1a" stroke-width="0.08">Months</text>
<text transform="translate(12.7,496.25) rotate(-90) scale(0.69,1)" x="0" y="0" font-size="7.3" font-weight="bold" text-anchor="middle" fill="#222" stroke="#222" stroke-width="0.25">LDH ratio</text>
<text x="276" y="375.8" font-size="11.3" font-weight="bold" fill="#111" stroke="#111" stroke-width="0.1">F</text>
<text x="366" y="368.4" font-size="5.8" fill="#2a2a2a" stroke="#2a2a2a" stroke-width="0.1">Blastoid/Pleomorphic Morphology</text>
<rect x="365.9" y="371.6" width="6" height="5.2" fill="rgba(220,100,85,0.40)"/>
<path d="M366.2 374.2H371.8" stroke="#b01428" stroke-width="1.5" stroke-opacity="0.85"/>
<path d="M368.9 373V375.4" stroke="#b01428" stroke-width="0.8"/>
<text x="374.5" y="376.3" font-size="5.8" fill="#2a2a2a" stroke="#2a2a2a" stroke-width="0.1">Not Blastoid/Pleomorphic</text>
<rect x="445.4" y="371.6" width="6" height="5.2" fill="rgba(130,198,118,0.40)"/>
<path d="M445.7 374.2H451.3" stroke="#468c46" stroke-width="1.5" stroke-opacity="0.85"/>
<path d="M448.4 373V375.4" stroke="#468c46" stroke-width="0.8"/>
<text x="453.8" y="376.3" font-size="5.8" fill="#2a2a2a" stroke="#2a2a2a" stroke-width="0.1">Blastoid/Pleom</text>
<path d="M352.4 383.9 L360.61 383.9 L360.61 384.57 L368.31 384.57 L368.31 387.23 L377.55 387.23 L377.55 391.89 L385.76 391.89 L385.76 395.89 L395 395.89 L395 399.88 L408.86 399.88 L408.86 402.55 L428.37 402.55 L428.37 405.21 L437.61 405.21 L437.61 406.54 L454.03 406.54 L454.03 407.21 L498.18 407.21 L498.18 445.84 L454.03 445.84 L454.03 441.91 L410.15 441.91 L410.15 425.86 L390.9 425.86 L390.9 423.86 L383.2 423.86 L383.2 419.86 L377.55 419.86 L377.55 415.2 L370.88 415.2 L370.88 410.54 L368.31 410.54 L368.31 402.55 L360.77 402.55 L360.77 397.22 L356.92 397.22 L356.92 391.89 L353.84 391.89 L353.84 383.9 L352.4 383.9Z" fill="rgba(130,198,118,0.40)" stroke="none"/>
<path d="M352.4 383.9 L365.23 383.9 L365.23 384.57 L369.85 384.57 L369.85 386.56 L376.53 386.56 L376.53 388.56 L383.51 388.56 L383.51 390.83 L397.06 390.83 L397.06 392.56 L403.73 392.56 L403.73 393.89 L417.08 393.89 L417.08 395.89 L423.75 395.89 L423.75 397.89 L428.37 397.89 L428.37 398.15 L437.61 398.15 L437.61 398.88 L462.76 398.88 L462.76 400.55 L511.01 400.55 L511.01 417.07 L462.76 417.07 L462.76 412.67 L437.61 412.67 L437.61 411.21 L428.37 411.21 L428.37 409.21 L423.75 409.21 L423.75 405.88 L417.08 405.88 L417.08 404.55 L403.73 404.55 L403.73 403.61 L397.06 403.61 L397.06 402.22 L383.51 402.22 L383.51 397.22 L376.53 397.22 L376.53 392.56 L369.85 392.56 L369.85 389.23 L365.23 389.23 L365.23 386.56 L359.07 386.56 L359.07 383.9 L352.4 383.9Z" fill="rgba(220,100,85,0.40)" stroke="none"/>
<path d="M352.4 383.9H353.84V386.7H356.92V390.49H360.77V393.56H368.31V398.15H370.88V402.75H377.55V407.34H383.2V412.34H408.35V418.47H410.15V431.12H454.03V437.25H498.18" fill="none" stroke="#468c46" stroke-width="1.0"/>
<path d="M383.2 410.94V413.74" stroke="#468c46" stroke-width="0.9"/>
<path d="M485.86 435.85V438.65" stroke="#468c46" stroke-width="0.9"/>
<path d="M352.4 383.9H359.07V384.7H365.23V386.7H369.85V388.1H373.96V390.56H376.53V392.09H383.51V394.09H390.9V395.56H397.06V396.82H403.73V399.48H417.08V400.88H423.75V402.22H428.37V404.95H437.61V406.81H462.76V409.54H512.04" fill="none" stroke="#b01428" stroke-width="1.45"/>
<path d="M360.1 383.3V386.1" stroke="#b01428" stroke-width="0.9"/>
<path d="M366.77 385.3V388.1" stroke="#b01428" stroke-width="0.9"/>
<path d="M372.93 386.7V389.5" stroke="#b01428" stroke-width="0.9"/>
<path d="M375.5 389.16V391.96" stroke="#b01428" stroke-width="0.9"/>
<path d="M378.06 390.69V393.49" stroke="#b01428" stroke-width="0.9"/>
<path d="M383.2 390.69V393.49" stroke="#b01428" stroke-width="0.9"/>
<path d="M385.76 392.69V395.49" stroke="#b01428" stroke-width="0.9"/>
<path d="M388.33 392.69V395.49" stroke="#b01428" stroke-width="0.9"/>
<path d="M393.46 394.16V396.95" stroke="#b01428" stroke-width="0.9"/>
<path d="M396.03 394.16V396.95" stroke="#b01428" stroke-width="0.9"/>
<path d="M398.6 395.42V398.22" stroke="#b01428" stroke-width="0.9"/>
<path d="M401.16 395.42V398.22" stroke="#b01428" stroke-width="0.9"/>
<path d="M403.73 398.08V400.88" stroke="#b01428" stroke-width="0.9"/>
<path d="M411.43 398.08V400.88" stroke="#b01428" stroke-width="0.9"/>
<path d="M414 398.08V400.88" stroke="#b01428" stroke-width="0.9"/>
<path d="M416.56 398.08V400.88" stroke="#b01428" stroke-width="0.9"/>
<path d="M421.7 399.48V402.28" stroke="#b01428" stroke-width="0.9"/>
<path d="M424.26 400.82V403.62" stroke="#b01428" stroke-width="0.9"/>
<path d="M429.39 403.55V406.35" stroke="#b01428" stroke-width="0.9"/>
<path d="M431.96 403.55V406.35" stroke="#b01428" stroke-width="0.9"/>
<path d="M434.53 403.55V406.35" stroke="#b01428" stroke-width="0.9"/>
<path d="M442.23 405.41V408.21" stroke="#b01428" stroke-width="0.9"/>
<path d="M444.79 405.41V408.21" stroke="#b01428" stroke-width="0.9"/>
<path d="M447.36 405.41V408.21" stroke="#b01428" stroke-width="0.9"/>
<path d="M449.93 405.41V408.21" stroke="#b01428" stroke-width="0.9"/>
<path d="M455.06 405.41V408.21" stroke="#b01428" stroke-width="0.9"/>
<path d="M475.59 408.14V410.94" stroke="#b01428" stroke-width="0.9"/>
<path d="M480.72 408.14V410.94" stroke="#b01428" stroke-width="0.9"/>
<path d="M488.42 408.14V410.94" stroke="#b01428" stroke-width="0.9"/>
<path d="M490.99 408.14V410.94" stroke="#b01428" stroke-width="0.9"/>
<path d="M493.56 408.14V410.94" stroke="#b01428" stroke-width="0.9"/>
<path d="M496.12 408.14V410.94" stroke="#b01428" stroke-width="0.9"/>
<path d="M501.26 408.14V410.94" stroke="#b01428" stroke-width="0.9"/>
<path d="M506.39 408.14V410.94" stroke="#b01428" stroke-width="0.9"/>
<path d="M344.9 381.2V454M344.3 453.4H513.4" stroke="#141414" stroke-width="1.2" fill="none"/>
<path d="M342.4 450.5H344.9" stroke="#141414" stroke-width="0.8"/>
<text x="340" y="452.6" font-size="5.8" text-anchor="end" fill="#2a2a2a" stroke="#2a2a2a" stroke-width="0.1">0.0</text>
<path d="M342.4 437.18H344.9" stroke="#141414" stroke-width="0.8"/>
<text x="340" y="439.28" font-size="5.8" text-anchor="end" fill="#2a2a2a" stroke="#2a2a2a" stroke-width="0.1">0.2</text>
<path d="M342.4 423.86H344.9" stroke="#141414" stroke-width="0.8"/>
<text x="340" y="425.96" font-size="5.8" text-anchor="end" fill="#2a2a2a" stroke="#2a2a2a" stroke-width="0.1">0.4</text>
<path d="M342.4 410.54H344.9" stroke="#141414" stroke-width="0.8"/>
<text x="340" y="412.64" font-size="5.8" text-anchor="end" fill="#2a2a2a" stroke="#2a2a2a" stroke-width="0.1">0.6</text>
<path d="M342.4 397.22H344.9" stroke="#141414" stroke-width="0.8"/>
<text x="340" y="399.32" font-size="5.8" text-anchor="end" fill="#2a2a2a" stroke="#2a2a2a" stroke-width="0.1">0.8</text>
<path d="M342.4 383.9H344.9" stroke="#141414" stroke-width="0.8"/>
<text x="340" y="386" font-size="5.8" text-anchor="end" fill="#2a2a2a" stroke="#2a2a2a" stroke-width="0.1">1.0</text>
<path d="M352.4 453.4V456.1" stroke="#141414" stroke-width="0.8"/>
<text x="352.4" y="464.8" font-size="5.8" text-anchor="middle" fill="#2a2a2a" stroke="#2a2a2a" stroke-width="0.1">0</text>
<path d="M383.2 453.4V456.1" stroke="#141414" stroke-width="0.8"/>
<text x="383.2" y="464.8" font-size="5.8" text-anchor="middle" fill="#2a2a2a" stroke="#2a2a2a" stroke-width="0.1">6</text>
<path d="M414 453.4V456.1" stroke="#141414" stroke-width="0.8"/>
<text x="414" y="464.8" font-size="5.8" text-anchor="middle" fill="#2a2a2a" stroke="#2a2a2a" stroke-width="0.1">12</text>
<path d="M444.79 453.4V456.1" stroke="#141414" stroke-width="0.8"/>
<text x="444.79" y="464.8" font-size="5.8" text-anchor="middle" fill="#2a2a2a" stroke="#2a2a2a" stroke-width="0.1">18</text>
<path d="M475.59 453.4V456.1" stroke="#141414" stroke-width="0.8"/>
<text x="475.59" y="464.8" font-size="5.8" text-anchor="middle" fill="#2a2a2a" stroke="#2a2a2a" stroke-width="0.1">24</text>
<path d="M506.39 453.4V456.1" stroke="#141414" stroke-width="0.8"/>
<text x="506.39" y="464.8" font-size="5.8" text-anchor="middle" fill="#2a2a2a" stroke="#2a2a2a" stroke-width="0.1">30</text>
<text transform="translate(429.4,476) scale(0.58,1)" x="0" y="0" font-size="8.5" font-weight="bold" text-anchor="middle" fill="#1a1a1a" stroke="#1a1a1a" stroke-width="0.08">Months</text>
<text transform="translate(326.4,417.5) rotate(-90) scale(0.58,1)" x="0" y="0" font-size="8.5" font-weight="bold" text-anchor="middle" fill="#1a1a1a" stroke="#1a1a1a" stroke-width="0.08">Overall survival</text>
<text x="351.7" y="438.6" font-size="6.05" fill="#2a2a2a" stroke="#2a2a2a" stroke-width="0.1">HR = 3.15 (1.58-6.26)</text>
<text x="351.7" y="445.4" font-size="6.05" fill="#2a2a2a" stroke="#2a2a2a" stroke-width="0.1"><tspan font-style="italic">P</tspan> = .001</text>
<text x="345.4" y="486.1" font-size="5.8" fill="#2a2a2a" stroke="#2a2a2a" stroke-width="0.1">Number at risk</text>
<path d="M344.9 490V503M344.4 502.5H513.4" stroke="#141414" stroke-width="1" fill="none"/>
<path d="M342.4 493H344.9" stroke="#141414" stroke-width="0.8"/>
<text x="339.4" y="495.1" font-size="5.8" text-anchor="end" fill="#cc2a48" stroke="#cc2a48" stroke-width="0.1">Not Blastoid/Pleomorphic</text>
<text x="352.4" y="495.1" font-size="5.8" text-anchor="middle" fill="#2a2a2a" stroke="#2a2a2a" stroke-width="0.1">120</text>
<text x="383.2" y="495.1" font-size="5.8" text-anchor="middle" fill="#2a2a2a" stroke="#2a2a2a" stroke-width="0.1">86</text>
<text x="414" y="495.1" font-size="5.8" text-anchor="middle" fill="#2a2a2a" stroke="#2a2a2a" stroke-width="0.1">61</text>
<text x="444.79" y="495.1" font-size="5.8" text-anchor="middle" fill="#2a2a2a" stroke="#2a2a2a" stroke-width="0.1">29</text>
<text x="475.59" y="495.1" font-size="5.8" text-anchor="middle" fill="#2a2a2a" stroke="#2a2a2a" stroke-width="0.1">13</text>
<text x="506.39" y="495.1" font-size="5.8" text-anchor="middle" fill="#2a2a2a" stroke="#2a2a2a" stroke-width="0.1">2</text>
<path d="M342.4 499.3H344.9" stroke="#141414" stroke-width="0.8"/>
<text x="339.4" y="501.4" font-size="5.8" text-anchor="end" fill="#4aa84a" stroke="#4aa84a" stroke-width="0.1">Blastoid/Pleomorphic</text>
<text x="352.4" y="501.4" font-size="5.8" text-anchor="middle" fill="#2a2a2a" stroke="#2a2a2a" stroke-width="0.1">19</text>
<text x="383.2" y="501.4" font-size="5.8" text-anchor="middle" fill="#2a2a2a" stroke="#2a2a2a" stroke-width="0.1">8</text>
<text x="414" y="501.4" font-size="5.8" text-anchor="middle" fill="#2a2a2a" stroke="#2a2a2a" stroke-width="0.1">3</text>
<text x="444.79" y="501.4" font-size="5.8" text-anchor="middle" fill="#2a2a2a" stroke="#2a2a2a" stroke-width="0.1">3</text>
<text x="475.59" y="501.4" font-size="5.8" text-anchor="middle" fill="#2a2a2a" stroke="#2a2a2a" stroke-width="0.1">2</text>
<text x="506.39" y="501.4" font-size="5.8" text-anchor="middle" fill="#2a2a2a" stroke="#2a2a2a" stroke-width="0.1">0</text>
<path d="M352.4 502.5V505.2" stroke="#141414" stroke-width="0.8"/>
<text x="352.4" y="513.8" font-size="5.8" text-anchor="middle" fill="#2a2a2a" stroke="#2a2a2a" stroke-width="0.1">0</text>
<path d="M383.2 502.5V505.2" stroke="#141414" stroke-width="0.8"/>
<text x="383.2" y="513.8" font-size="5.8" text-anchor="middle" fill="#2a2a2a" stroke="#2a2a2a" stroke-width="0.1">6</text>
<path d="M414 502.5V505.2" stroke="#141414" stroke-width="0.8"/>
<text x="414" y="513.8" font-size="5.8" text-anchor="middle" fill="#2a2a2a" stroke="#2a2a2a" stroke-width="0.1">12</text>
<path d="M444.79 502.5V505.2" stroke="#141414" stroke-width="0.8"/>
<text x="444.79" y="513.8" font-size="5.8" text-anchor="middle" fill="#2a2a2a" stroke="#2a2a2a" stroke-width="0.1">18</text>
<path d="M475.59 502.5V505.2" stroke="#141414" stroke-width="0.8"/>
<text x="475.59" y="513.8" font-size="5.8" text-anchor="middle" fill="#2a2a2a" stroke="#2a2a2a" stroke-width="0.1">24</text>
<path d="M506.39 502.5V505.2" stroke="#141414" stroke-width="0.8"/>
<text x="506.39" y="513.8" font-size="5.8" text-anchor="middle" fill="#2a2a2a" stroke="#2a2a2a" stroke-width="0.1">30</text>
<text transform="translate(429.4,524.7) scale(0.58,1)" x="0" y="0" font-size="8.5" font-weight="bold" text-anchor="middle" fill="#1a1a1a" stroke="#1a1a1a" stroke-width="0.08">Months</text>
<text transform="translate(259.9,495.7) rotate(-90) scale(0.76,1)" x="0" y="0" font-size="7.0" font-weight="normal" text-anchor="middle" fill="#222" stroke="#222" stroke-width="0.2">Pleomorphic</text>
<text transform="translate(268.8,495.65) rotate(-90) scale(0.75,1)" x="0" y="0" font-size="7.0" font-weight="normal" text-anchor="middle" fill="#222" stroke="#222" stroke-width="0.2">morphology</text>
</svg></div></body></html>
